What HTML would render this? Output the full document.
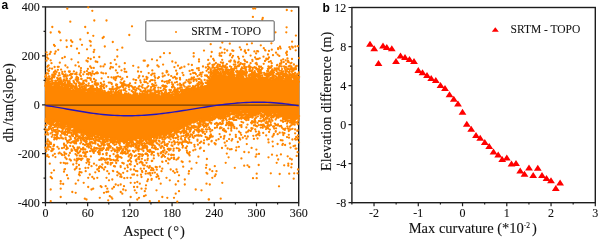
<!DOCTYPE html>
<html><head><meta charset="utf-8"><style>
html,body{margin:0;padding:0;background:#fff;width:600px;height:242px;overflow:hidden}
svg{display:block;will-change:transform}
text{font-family:"Liberation Serif",serif;fill:#111;stroke:#111;stroke-width:0.1px}
</style></head><body>
<svg width="600" height="242" viewBox="0 0 600 242">
<rect width="600" height="242" fill="#fff"/>
<g>
<rect x="45.45" y="6.95" width="253.25" height="195.70" fill="none" stroke="#1c1c1c" stroke-width="1.4"/>
<polygon points="45.0,86.2 49.0,86.4 53.0,86.6 57.0,86.8 61.0,87.2 65.0,88.1 69.0,89.0 73.0,89.6 77.0,90.1 81.0,90.7 85.0,91.2 89.0,91.7 93.0,92.3 97.0,92.8 101.0,93.4 105.0,94.0 109.0,94.5 113.0,95.2 117.0,95.8 121.0,96.2 125.0,96.2 129.0,96.1 133.0,96.1 137.0,96.0 141.0,96.0 145.0,96.0 149.0,95.9 153.0,95.9 157.0,95.9 161.0,95.8 165.0,95.8 169.0,95.7 173.0,95.7 177.0,94.7 181.0,93.3 185.0,92.0 189.0,90.6 193.0,89.5 197.0,88.8 201.0,88.1 205.0,87.4 209.0,80.2 213.0,73.3 217.0,73.9 221.0,74.5 225.0,75.1 229.0,75.6 233.0,76.2 237.0,76.8 241.0,77.3 245.0,77.7 249.0,78.3 253.0,78.7 257.0,78.9 261.0,79.1 265.0,79.2 269.0,79.2 273.0,79.2 277.0,79.2 281.0,79.3 285.0,79.7 289.0,80.1 293.0,80.6 297.0,81.0 299.3,81.2 299.3,116.8 297.0,116.5 293.0,116.0 289.0,115.4 285.0,114.8 281.0,114.3 277.0,113.7 273.0,113.1 269.0,112.6 265.0,112.2 261.0,112.0 257.0,111.7 253.0,111.5 249.0,111.3 245.0,111.0 241.0,110.8 237.0,111.6 233.0,112.3 229.0,113.1 225.0,113.9 221.0,114.6 217.0,115.6 213.0,116.6 209.0,117.6 205.0,118.7 201.0,119.7 197.0,120.6 193.0,121.6 189.0,123.3 185.0,125.3 181.0,127.3 177.0,129.3 173.0,131.1 169.0,132.1 165.0,133.1 161.0,134.1 157.0,135.2 153.0,136.2 149.0,137.2 145.0,138.3 141.0,139.3 137.0,139.5 133.0,139.7 129.0,139.9 125.0,140.1 121.0,140.3 117.0,139.7 113.0,138.9 109.0,138.1 105.0,137.3 101.0,136.5 97.0,135.7 93.0,134.9 89.0,134.1 85.0,132.7 81.0,130.9 77.0,129.1 73.0,127.4 69.0,125.6 65.0,124.0 61.0,123.0 57.0,121.9 53.0,120.9 49.0,119.8 45.0,118.8 45.2,118.9" fill="#ff8600"/>
<path d="M67.3 8.7h0M88.2 7.3h0M92.3 10.8h0M70.3 21.7h0M94.3 20.5h0M106.5 20.5h0M132.0 26.3h0M52.3 27.0h0M85.2 27.0h0M50.7 32.5h0M59.0 31.7h0M59.8 32.5h0M87.8 33.0h0M93.3 35.8h0M103.7 37.0h0M102.7 38.0h0M129.3 35.0h0M60.7 40.3h0M66.5 40.5h0M71.0 40.5h0M72.3 42.0h0M80.3 39.5h0M89.8 40.8h0M90.7 41.7h0M112.8 42.0h0M54.0 45.0h0M210.7 44.2h0M222.3 42.5h0M229.8 43.7h0M253.2 8.6h0M255.2 8.6h0M286.8 10.0h0M291.6 10.8h0M252.9 16.9h0M262.8 17.9h0M262.3 19.5h0M286.6 27.3h0M275.5 32.3h0M286.3 32.3h0M295.9 35.6h0M292.1 41.7h0M247.0 44.3h0M251.9 43.3h0M271.4 43.3h0M54.8 46.0h0M66.8 47.0h0M71.2 46.0h0M82.0 44.8h0M90.7 45.7h0M104.8 46.5h0M122.3 47.7h0M77.0 48.7h0M87.0 49.3h0M94.3 49.8h0M93.7 52.0h0M117.3 49.8h0M58.2 49.8h0M55.7 51.5h0M54.8 53.7h0M50.7 52.0h0M49.8 54.0h0M46.5 52.3h0M47.3 54.8h0M79.0 53.2h0M48.2 58.7h0M47.0 57.3h0M62.3 58.2h0M64.8 57.0h0M71.5 59.3h0M88.2 58.2h0M94.0 57.3h0M99.3 57.0h0M117.3 56.5h0M114.8 59.8h0M50.7 60.3h0M46.5 60.7h0M86.5 60.7h0M87.7 61.5h0M90.7 59.0h0M95.7 61.5h0M97.3 62.0h0M78.2 62.3h0M59.8 62.7h0M110.7 63.2h0M124.8 63.2h0M143.7 60.7h0M51.5 63.2h0M164.0 53.2h0M169.8 53.2h0M193.7 53.2h0M193.7 56.5h0M160.3 57.0h0M152.0 59.3h0M157.0 60.3h0M144.8 60.7h0M199.0 59.3h0M172.3 61.5h0M175.7 62.7h0M199.0 61.5h0M49.8 163.7h0M60.7 162.8h0M63.7 162.8h0M67.3 163.3h0M73.2 164.5h0M76.5 163.3h0M79.0 165.0h0M86.5 162.8h0M89.0 164.5h0M91.5 166.2h0M94.0 163.7h0M96.5 165.3h0M102.3 164.5h0M107.3 163.3h0M110.7 164.5h0M114.0 166.2h0M112.3 162.8h0M122.3 162.8h0M120.7 167.0h0M127.3 165.3h0M130.7 164.5h0M134.8 166.2h0M137.3 164.0h0M142.3 163.7h0M54.0 170.3h0M51.5 172.8h0M64.0 171.7h0M74.8 169.5h0M79.8 172.0h0M79.0 174.5h0M79.8 175.3h0M88.2 167.8h0M85.7 171.2h0M89.8 174.5h0M97.3 169.5h0M99.0 171.2h0M102.3 167.8h0M107.3 171.2h0M109.0 173.7h0M113.2 171.2h0M117.3 172.0h0M120.7 174.5h0M123.2 172.8h0M127.3 171.2h0M130.7 169.5h0M134.0 169.5h0M137.3 171.2h0M140.7 168.7h0M134.0 174.5h0M142.3 172.0h0M50.7 177.0h0M52.0 178.3h0M88.2 177.8h0M92.3 177.0h0M94.0 178.7h0M97.3 177.8h0M106.5 177.8h0M109.0 180.3h0M112.3 179.5h0M117.3 175.3h0M121.5 177.0h0M127.3 177.8h0M130.7 177.8h0M137.3 175.3h0M141.5 177.0h0M60.7 181.2h0M78.2 180.3h0M83.7 182.8h0M60.7 183.7h0M63.2 184.0h0M75.7 183.7h0M100.7 186.2h0M101.5 187.0h0M105.7 186.2h0M107.3 188.7h0M115.7 184.5h0M118.2 185.3h0M120.7 184.5h0M130.7 182.8h0M134.8 182.8h0M137.3 182.0h0M139.8 183.7h0M50.7 189.5h0M60.7 188.7h0M88.2 187.0h0M91.5 189.5h0M93.2 188.7h0M112.3 188.7h0M114.0 187.0h0M124.0 186.2h0M123.2 189.5h0M125.7 190.3h0M134.0 187.0h0M137.3 187.0h0M134.8 190.3h0M141.5 188.7h0M72.3 192.0h0M75.7 192.8h0M104.0 192.8h0M106.5 192.0h0M108.2 191.7h0M120.7 192.0h0M122.3 193.7h0M136.5 192.8h0M60.7 197.0h0M84.8 198.7h0M86.5 199.5h0M99.8 197.8h0M109.8 196.2h0M111.5 197.3h0M112.3 198.7h0M130.7 197.0h0M139.0 197.8h0M50.7 201.2h0M108.2 200.3h0M137.3 199.5h0M146.5 162.8h0M144.8 165.3h0M144.0 168.7h0M149.8 166.2h0M149.0 167.8h0M151.5 167.8h0M153.2 170.3h0M146.0 171.2h0M145.7 173.7h0M149.8 172.8h0M150.7 175.3h0M155.7 167.0h0M159.8 166.7h0M162.3 168.7h0M161.5 171.2h0M168.2 163.3h0M170.7 169.5h0M173.2 171.2h0M174.8 172.8h0M176.5 169.5h0M177.3 172.0h0M179.0 175.3h0M183.2 166.7h0M189.0 171.2h0M188.7 173.7h0M191.5 168.7h0M196.5 162.8h0M206.5 165.0h0M206.0 167.8h0M206.5 172.8h0M207.3 173.7h0M209.8 169.5h0M212.3 171.2h0M214.8 166.2h0M216.5 171.2h0M215.7 174.5h0M214.8 176.2h0M225.7 162.8h0M234.8 167.8h0M156.5 177.0h0M158.2 176.2h0M159.0 178.7h0M166.5 177.8h0M169.8 180.3h0M147.3 181.2h0M146.0 185.3h0M145.7 188.7h0M144.8 191.2h0M145.7 195.3h0M144.0 196.2h0M160.7 183.7h0M175.7 184.5h0M178.2 181.2h0M184.8 179.5h0M184.8 184.5h0M212.3 177.8h0M206.5 183.7h0M209.8 184.5h0M222.3 182.8h0M156.5 190.3h0M175.7 193.7h0M179.0 191.2h0M195.7 189.5h0M201.5 190.3h0M162.3 197.0h0M167.3 197.8h0M174.0 197.8h0M209.0 199.5h0M220.7 198.7h0M149.8 201.2h0M159.0 201.2h0M177.3 201.7h0M276.7 162.8h0M244.2 165.7h0M247.5 165.3h0M249.2 167.0h0M258.7 165.0h0M284.2 165.3h0M288.3 163.7h0M288.3 165.7h0M291.7 164.0h0M291.3 167.3h0M298.0 169.5h0M256.7 173.7h0M253.0 178.2h0M256.7 178.2h0M270.8 173.3h0M279.7 174.0h0M289.2 173.7h0M294.2 173.3h0M297.5 173.3h0M293.7 178.7h0M279.0 186.3h0M208.7 199.5h0M142.5 162.8h0M107.9 162.3h0M89.3 162.3h0M105.6 162.5h0M116.2 163.0h0M139.7 162.6h0M65.5 163.5h0M107.7 163.9h0M123.7 163.5h0M110.7 163.2h0M129.8 164.2h0M143.3 165.2h0M115.0 166.5h0M147.4 166.4h0M120.6 166.1h0M100.0 166.3h0M76.7 166.8h0M99.2 167.0h0M105.2 167.2h0M101.4 167.1h0M156.8 167.2h0M127.8 167.3h0M76.3 168.2h0M152.9 168.6h0M79.7 168.9h0M124.9 168.6h0M98.9 168.4h0M85.5 168.0h0M64.5 169.4h0M65.0 169.1h0M156.8 169.7h0M104.0 169.5h0M112.9 170.8h0M151.1 170.2h0M153.5 170.0h0M135.8 170.8h0M141.9 171.0h0M81.5 172.4h0M79.6 172.3h0M154.9 172.6h0M95.3 172.3h0M149.9 173.7h0M118.9 173.4h0M148.1 173.4h0M152.4 173.1h0M141.0 174.7h0M132.3 174.6h0M157.2 174.3h0M67.0 175.2h0M121.2 176.5h0M120.3 176.7h0M124.3 178.2h0M68.1 178.4h0M151.5 179.8h0M148.0 179.5h0M151.7 179.0h0M45.3 85.9h0M45.4 85.5h0M46.0 85.0h0M45.9 83.9h0M45.7 83.2h0M45.4 80.6h0M46.1 80.8h0M45.3 76.8h0M45.9 75.2h0M45.9 119.0h0M45.8 120.3h0M46.1 120.2h0M45.9 120.3h0M45.7 121.1h0M45.8 121.7h0M45.7 125.5h0M45.3 128.8h0M45.3 129.4h0M45.6 129.9h0M45.5 134.5h0M45.4 147.6h0M46.5 86.5h0M46.3 85.4h0M47.1 85.1h0M46.4 84.4h0M46.4 83.3h0M46.4 83.1h0M46.7 79.2h0M46.6 79.1h0M47.0 78.7h0M46.6 77.8h0M46.4 77.4h0M46.7 73.1h0M46.5 120.3h0M46.7 120.2h0M46.3 120.8h0M46.4 120.6h0M47.1 120.8h0M47.2 122.8h0M46.5 124.9h0M46.7 131.4h0M47.2 141.4h0M46.6 143.5h0M46.3 149.1h0M46.3 151.3h0M46.9 156.1h0M48.2 86.5h0M48.0 86.7h0M48.1 86.2h0M48.2 85.9h0M47.9 85.0h0M47.8 83.0h0M47.4 80.9h0M48.1 80.3h0M47.5 79.1h0M48.0 78.8h0M48.2 73.7h0M48.2 70.5h0M47.7 69.7h0M47.3 66.8h0M47.9 66.0h0M47.7 119.2h0M48.2 119.7h0M47.9 119.7h0M48.1 120.2h0M47.7 120.2h0M48.1 120.9h0M47.9 122.2h0M47.4 122.5h0M48.0 123.0h0M48.2 129.9h0M47.4 129.9h0M47.5 132.8h0M47.7 134.4h0M48.2 134.5h0M47.7 139.5h0M48.1 144.5h0M47.8 146.5h0M47.7 147.6h0M47.5 154.9h0M49.1 84.6h0M48.3 83.8h0M48.4 83.2h0M48.3 82.6h0M48.4 81.7h0M48.9 81.3h0M48.5 80.0h0M48.3 79.4h0M48.6 78.7h0M48.6 76.4h0M48.8 71.1h0M49.0 70.8h0M48.6 65.5h0M49.0 119.8h0M49.0 120.6h0M48.9 121.2h0M48.8 121.0h0M49.1 121.5h0M49.2 122.2h0M49.0 122.7h0M49.2 126.8h0M48.8 128.5h0M49.0 129.3h0M48.9 141.3h0M48.3 145.0h0M49.0 146.2h0M48.6 149.6h0M48.8 156.9h0M49.8 86.3h0M50.2 85.7h0M50.1 85.0h0M50.1 84.3h0M49.4 84.2h0M49.5 84.3h0M49.9 83.2h0M49.9 81.6h0M49.3 79.1h0M49.4 78.3h0M49.7 78.6h0M49.5 76.3h0M49.7 68.3h0M49.8 119.7h0M49.3 124.3h0M49.6 142.4h0M49.9 143.9h0M51.0 86.7h0M50.6 83.6h0M51.2 79.0h0M51.2 119.8h0M50.3 120.1h0M51.2 120.6h0M50.4 121.9h0M50.8 122.7h0M51.0 122.8h0M50.7 124.1h0M50.8 125.1h0M51.2 125.2h0M51.1 126.0h0M50.6 126.3h0M50.4 127.6h0M51.0 128.7h0M51.2 128.9h0M50.6 133.3h0M50.8 142.7h0M51.0 144.0h0M50.4 147.2h0M52.0 86.5h0M52.1 86.7h0M51.6 85.3h0M52.2 82.4h0M51.7 80.7h0M51.4 78.9h0M51.9 78.4h0M51.9 77.6h0M52.0 77.5h0M52.1 68.7h0M52.1 120.0h0M51.9 120.5h0M52.0 123.9h0M51.9 123.5h0M52.0 124.2h0M52.1 124.5h0M51.5 125.4h0M52.1 130.4h0M51.8 136.8h0M52.2 148.8h0M51.3 151.0h0M52.4 84.0h0M53.1 83.3h0M53.1 83.5h0M52.8 83.4h0M52.6 80.6h0M52.3 75.6h0M52.3 74.7h0M52.6 121.0h0M52.5 121.5h0M52.7 123.1h0M52.5 123.3h0M52.9 123.2h0M53.2 123.5h0M53.2 124.2h0M53.0 127.8h0M52.3 132.4h0M52.7 134.9h0M52.7 134.8h0M52.9 149.3h0M52.5 150.6h0M52.9 155.5h0M53.4 87.0h0M53.8 87.0h0M53.3 86.6h0M53.3 83.6h0M53.5 82.8h0M53.4 77.2h0M54.2 77.4h0M53.3 76.6h0M53.8 72.7h0M54.2 71.8h0M53.4 120.7h0M53.9 121.6h0M53.8 122.3h0M53.7 125.1h0M53.8 129.9h0M54.1 130.9h0M54.2 139.4h0M54.1 144.8h0M53.9 145.0h0M53.9 145.7h0M53.4 146.3h0M53.6 149.1h0M55.1 86.0h0M55.2 86.2h0M54.8 85.5h0M54.3 85.5h0M54.6 85.1h0M54.4 84.5h0M54.9 83.9h0M55.1 82.8h0M55.2 80.9h0M54.5 76.5h0M54.3 75.0h0M54.6 67.0h0M54.3 120.9h0M54.9 121.3h0M55.2 124.6h0M54.5 125.3h0M54.9 126.9h0M55.0 135.0h0M54.3 137.4h0M54.7 138.4h0M54.8 153.8h0M55.8 84.8h0M56.2 84.1h0M55.9 82.6h0M56.1 82.3h0M55.4 81.4h0M55.3 81.3h0M55.7 80.9h0M55.6 74.0h0M55.9 71.6h0M55.3 70.7h0M56.1 123.9h0M56.1 124.7h0M55.9 126.1h0M55.5 126.5h0M55.8 130.0h0M55.3 131.8h0M56.1 132.0h0M55.8 134.6h0M56.2 134.6h0M56.0 137.7h0M55.4 157.1h0M56.9 87.4h0M56.4 86.9h0M57.2 86.7h0M56.5 86.3h0M56.3 85.6h0M57.2 78.0h0M56.6 71.9h0M57.0 121.8h0M56.6 122.2h0M56.6 122.8h0M56.8 123.1h0M56.3 123.8h0M56.4 134.1h0M56.5 135.1h0M57.1 136.2h0M56.9 137.0h0M56.9 138.0h0M57.0 138.4h0M56.7 139.3h0M58.0 86.3h0M58.1 85.1h0M57.4 83.4h0M58.0 82.8h0M58.2 83.0h0M57.3 83.0h0M57.6 80.1h0M57.9 78.4h0M57.9 69.8h0M57.8 66.8h0M57.9 122.2h0M57.9 122.8h0M57.9 124.1h0M57.7 125.1h0M57.7 125.3h0M58.1 125.3h0M57.5 127.3h0M57.6 127.9h0M57.4 129.8h0M57.7 132.2h0M57.7 133.8h0M57.4 146.8h0M58.5 85.3h0M58.9 85.5h0M58.9 85.2h0M58.7 85.2h0M59.1 85.2h0M58.4 83.9h0M58.6 83.4h0M58.7 82.0h0M59.0 81.6h0M59.2 79.4h0M59.1 79.6h0M58.4 78.7h0M58.4 75.6h0M59.2 73.1h0M58.7 66.8h0M58.9 123.3h0M58.3 123.6h0M58.5 124.9h0M58.4 126.7h0M59.0 130.8h0M59.0 131.1h0M58.4 138.1h0M58.8 148.7h0M58.7 153.4h0M59.5 87.3h0M59.3 86.6h0M59.9 84.3h0M60.1 84.3h0M59.5 83.0h0M59.4 82.7h0M59.6 75.2h0M59.3 123.3h0M60.0 124.0h0M60.2 123.7h0M59.7 124.7h0M59.9 125.2h0M60.2 127.4h0M59.8 138.3h0M59.6 152.6h0M60.5 87.2h0M60.9 84.3h0M60.6 82.3h0M61.0 80.4h0M60.7 80.6h0M60.6 79.2h0M60.3 78.0h0M61.1 69.6h0M60.9 124.0h0M61.0 124.1h0M60.9 131.7h0M60.7 135.5h0M61.2 153.8h0M61.3 87.0h0M61.7 86.7h0M61.5 86.3h0M62.1 86.0h0M61.5 82.4h0M61.3 123.0h0M62.1 122.8h0M62.2 122.6h0M61.4 124.1h0M62.2 124.9h0M61.6 125.4h0M61.3 125.8h0M62.1 126.2h0M61.4 126.8h0M61.9 128.2h0M62.1 133.5h0M61.5 137.3h0M62.1 138.3h0M62.0 148.2h0M62.1 155.0h0M63.1 88.1h0M62.8 88.3h0M62.3 87.1h0M62.6 87.1h0M62.3 84.9h0M62.7 85.2h0M62.9 85.0h0M63.0 84.3h0M62.7 83.8h0M62.5 82.6h0M62.5 82.1h0M62.9 74.1h0M62.3 73.8h0M62.3 72.0h0M63.1 123.4h0M62.9 123.5h0M62.7 124.4h0M62.4 125.3h0M62.7 127.4h0M62.7 130.0h0M62.4 131.2h0M63.4 88.5h0M63.4 88.2h0M63.4 88.3h0M63.7 88.1h0M64.1 87.9h0M63.8 84.7h0M63.6 80.9h0M63.4 80.7h0M63.6 80.2h0M64.1 79.4h0M63.8 76.5h0M63.7 123.4h0M63.5 123.4h0M63.6 123.3h0M64.0 124.8h0M63.9 126.7h0M63.8 128.4h0M64.1 132.5h0M63.5 133.6h0M63.3 138.6h0M64.0 143.6h0M64.0 144.5h0M64.0 147.7h0M65.0 87.2h0M64.3 85.5h0M65.1 85.6h0M64.9 84.6h0M64.5 83.9h0M64.9 83.8h0M65.0 82.3h0M64.6 76.5h0M64.4 75.3h0M64.9 71.7h0M64.4 123.6h0M65.2 124.5h0M64.5 126.6h0M64.8 127.1h0M65.1 131.7h0M64.4 132.4h0M64.4 134.2h0M65.2 134.6h0M64.9 134.8h0M64.6 145.3h0M64.6 145.8h0M64.3 152.3h0M64.7 153.3h0M64.3 155.1h0M65.3 88.3h0M66.0 86.7h0M65.7 86.1h0M65.6 86.0h0M66.2 84.6h0M65.8 80.4h0M66.0 76.2h0M65.6 74.3h0M65.4 65.5h0M66.0 123.9h0M65.8 126.4h0M65.8 129.6h0M66.0 131.8h0M65.4 132.6h0M65.4 134.5h0M65.6 137.7h0M65.8 139.2h0M66.1 145.5h0M66.2 153.8h0M65.3 157.5h0M67.2 88.6h0M66.4 88.2h0M67.0 88.3h0M66.8 87.2h0M66.3 86.0h0M66.9 85.8h0M66.5 78.4h0M66.9 78.4h0M67.1 124.6h0M67.1 126.6h0M66.3 128.8h0M67.0 134.9h0M67.0 141.0h0M67.1 147.4h0M66.3 149.2h0M66.6 159.0h0M68.1 88.9h0M68.2 88.4h0M67.9 88.8h0M68.2 86.9h0M67.8 86.6h0M67.9 86.5h0M67.8 86.1h0M67.3 86.1h0M67.3 85.6h0M68.1 84.9h0M67.8 83.5h0M67.7 82.5h0M68.1 81.3h0M67.5 80.4h0M67.6 75.6h0M67.7 75.7h0M67.5 67.4h0M67.9 124.8h0M67.7 125.0h0M67.6 124.8h0M68.0 125.3h0M68.1 126.3h0M67.9 127.1h0M67.8 128.8h0M68.0 130.9h0M67.9 130.7h0M68.1 132.0h0M67.8 133.0h0M67.5 142.8h0M67.8 148.3h0M69.0 88.5h0M68.3 87.5h0M68.3 86.7h0M68.4 86.2h0M69.2 85.6h0M69.0 85.5h0M69.0 84.1h0M68.7 83.0h0M68.9 71.3h0M68.7 125.5h0M68.9 127.3h0M68.9 129.1h0M68.3 129.8h0M69.1 132.7h0M68.7 140.6h0M68.5 141.9h0M68.8 155.5h0M69.8 89.4h0M70.1 88.5h0M70.0 86.1h0M69.4 85.2h0M69.7 84.1h0M69.8 83.9h0M69.8 83.0h0M69.5 82.4h0M69.6 81.2h0M70.2 78.8h0M70.0 75.0h0M69.4 72.0h0M69.8 71.5h0M69.5 126.0h0M69.5 127.3h0M69.9 127.1h0M70.2 127.6h0M69.8 127.6h0M70.1 129.6h0M69.6 129.4h0M69.5 130.2h0M69.5 132.3h0M70.1 132.5h0M69.4 136.3h0M69.8 139.8h0M70.2 145.9h0M69.9 153.0h0M69.7 159.4h0M70.3 88.5h0M71.1 87.5h0M71.0 86.0h0M71.2 78.2h0M71.0 74.7h0M71.0 73.8h0M70.5 125.8h0M71.2 127.4h0M70.8 127.6h0M70.3 129.8h0M71.1 132.9h0M70.5 137.0h0M70.5 137.6h0M70.9 139.1h0M70.4 142.8h0M70.9 160.5h0M72.1 88.0h0M71.7 86.4h0M71.6 85.5h0M71.7 84.3h0M71.7 84.1h0M71.9 77.4h0M71.6 76.8h0M72.0 74.2h0M71.6 126.6h0M72.1 130.7h0M71.7 135.0h0M71.4 142.7h0M71.6 149.5h0M72.2 150.6h0M71.5 150.9h0M71.5 150.9h0M73.0 86.2h0M72.6 73.8h0M72.8 127.2h0M72.9 127.2h0M72.9 130.7h0M72.7 130.7h0M72.4 134.7h0M72.6 135.4h0M73.0 136.2h0M72.6 141.7h0M73.2 141.5h0M73.0 146.4h0M73.3 89.9h0M73.5 85.7h0M73.9 82.0h0M73.9 82.2h0M73.5 81.0h0M73.9 71.4h0M74.2 129.9h0M73.9 130.7h0M73.9 131.6h0M73.3 132.5h0M73.7 132.6h0M73.7 133.9h0M73.8 142.5h0M74.1 148.0h0M74.5 88.2h0M74.6 88.1h0M74.7 87.9h0M74.4 87.7h0M75.2 86.9h0M74.4 83.0h0M75.1 74.1h0M75.1 128.6h0M74.3 128.8h0M75.1 129.8h0M74.3 133.1h0M75.0 133.6h0M75.0 137.8h0M74.9 138.7h0M74.6 141.1h0M74.7 143.3h0M75.1 149.9h0M74.7 149.6h0M75.0 149.8h0M74.6 159.7h0M76.0 90.1h0M76.0 90.0h0M75.7 89.7h0M75.3 88.2h0M76.1 87.7h0M76.2 87.4h0M76.0 86.7h0M76.0 86.8h0M75.9 85.1h0M76.2 83.8h0M75.6 79.4h0M75.5 65.4h0M75.3 128.3h0M75.9 128.5h0M75.4 131.3h0M75.6 131.4h0M76.2 133.3h0M75.8 135.0h0M76.1 135.8h0M75.5 141.4h0M76.1 143.4h0M75.6 150.4h0M75.9 151.1h0M75.5 154.1h0M76.7 90.6h0M76.6 90.6h0M76.8 88.9h0M76.8 88.3h0M76.7 87.9h0M76.6 86.3h0M77.2 81.5h0M76.4 79.8h0M76.3 79.8h0M76.4 77.7h0M76.8 76.8h0M76.6 74.3h0M76.5 72.6h0M77.1 128.4h0M76.5 129.2h0M76.7 130.4h0M77.0 132.7h0M76.4 133.1h0M77.1 132.9h0M76.3 136.7h0M77.2 139.1h0M76.3 139.8h0M76.6 141.3h0M76.7 149.8h0M77.2 150.5h0M77.0 151.7h0M76.8 155.5h0M77.0 158.7h0M76.6 161.0h0M77.9 88.8h0M77.6 80.6h0M78.0 79.3h0M77.6 78.3h0M78.1 78.0h0M78.1 130.4h0M77.3 130.6h0M77.8 131.6h0M77.9 132.2h0M77.7 131.9h0M78.2 132.3h0M77.6 135.2h0M78.2 136.6h0M77.9 138.6h0M78.1 140.5h0M77.7 147.5h0M77.6 147.9h0M78.0 148.7h0M78.1 153.3h0M77.8 159.8h0M78.4 90.0h0M78.7 89.4h0M79.1 85.9h0M79.0 83.3h0M78.9 82.5h0M78.3 79.6h0M79.0 66.4h0M78.5 130.1h0M78.4 132.4h0M79.0 138.1h0M78.6 158.7h0M79.7 91.0h0M79.9 90.9h0M79.9 89.4h0M80.0 89.1h0M79.8 88.0h0M79.5 86.3h0M79.5 85.4h0M79.7 74.5h0M79.3 130.1h0M80.1 130.3h0M79.4 130.7h0M80.1 131.1h0M79.8 132.5h0M79.7 136.4h0M80.1 138.6h0M79.3 147.5h0M80.0 151.4h0M80.2 151.3h0M79.3 152.3h0M79.7 155.7h0M79.5 158.9h0M81.2 91.1h0M80.3 89.2h0M81.2 87.4h0M80.4 83.4h0M81.2 78.9h0M80.9 76.1h0M80.7 72.4h0M80.8 70.4h0M81.0 68.1h0M81.2 131.0h0M80.6 137.2h0M80.9 137.5h0M80.9 138.5h0M81.0 138.8h0M80.9 140.3h0M80.4 143.4h0M81.0 149.2h0M80.7 155.6h0M80.8 159.0h0M81.2 160.1h0M82.2 89.8h0M81.8 87.0h0M81.4 84.8h0M82.2 84.7h0M81.6 79.0h0M82.2 131.9h0M81.6 131.8h0M81.5 133.6h0M81.4 134.8h0M81.9 134.8h0M82.1 137.5h0M81.3 137.9h0M81.3 142.1h0M82.1 149.3h0M81.3 156.0h0M83.1 91.3h0M82.5 90.7h0M82.7 89.5h0M82.5 88.3h0M82.8 86.8h0M83.0 84.1h0M82.5 83.5h0M83.2 82.4h0M83.0 131.0h0M82.6 131.8h0M82.8 132.2h0M83.1 135.9h0M82.9 139.1h0M83.1 139.7h0M83.2 144.1h0M83.1 144.2h0M83.2 148.4h0M83.1 148.0h0M83.1 152.7h0M82.5 158.6h0M83.5 90.3h0M83.7 86.4h0M84.1 83.5h0M83.4 80.8h0M83.3 74.3h0M84.1 132.5h0M84.0 134.1h0M83.6 134.2h0M83.6 134.9h0M83.6 135.4h0M83.8 137.6h0M83.9 139.8h0M83.9 139.9h0M83.4 140.2h0M83.3 147.8h0M83.4 148.2h0M83.6 149.1h0M83.4 149.7h0M83.7 152.2h0M83.5 152.5h0M84.4 91.5h0M84.4 91.7h0M85.1 90.7h0M84.4 88.6h0M84.9 88.2h0M84.4 86.1h0M85.2 80.4h0M84.4 72.0h0M84.7 132.7h0M84.6 133.5h0M85.1 138.1h0M84.5 140.2h0M84.3 140.9h0M85.0 145.0h0M84.7 152.9h0M84.3 156.2h0M85.4 90.5h0M86.2 89.4h0M85.7 88.9h0M85.4 88.8h0M85.5 87.4h0M85.8 87.6h0M86.1 84.8h0M86.2 132.9h0M85.9 133.2h0M86.0 134.4h0M85.8 137.5h0M85.8 140.5h0M85.4 141.7h0M85.9 142.4h0M86.1 142.4h0M85.3 149.5h0M86.2 152.4h0M85.8 152.3h0M85.4 154.4h0M86.2 156.7h0M87.0 85.7h0M86.4 81.3h0M86.3 80.4h0M86.9 74.1h0M87.0 71.1h0M86.8 135.1h0M86.7 138.9h0M87.0 139.1h0M87.1 139.4h0M86.7 141.6h0M86.4 142.8h0M86.7 144.1h0M87.0 146.4h0M87.2 151.9h0M87.8 91.9h0M87.3 90.5h0M87.8 90.7h0M87.9 90.0h0M87.8 90.2h0M88.2 89.3h0M87.6 78.0h0M87.9 68.9h0M87.5 133.4h0M88.2 134.1h0M87.3 134.4h0M87.8 134.6h0M87.3 135.2h0M87.4 137.1h0M88.1 138.5h0M87.9 145.9h0M87.4 159.2h0M87.5 160.5h0M87.4 160.2h0M87.8 161.2h0M88.6 92.1h0M88.6 91.4h0M88.7 85.7h0M88.7 83.4h0M88.4 74.5h0M88.7 73.0h0M88.9 133.3h0M88.5 134.8h0M88.4 135.7h0M88.6 138.2h0M88.5 143.8h0M88.3 144.1h0M88.8 144.8h0M89.2 147.1h0M88.9 147.6h0M89.1 159.6h0M88.8 159.5h0M89.8 91.7h0M89.7 91.8h0M89.5 89.8h0M89.8 89.2h0M89.5 88.6h0M89.6 78.2h0M90.2 66.5h0M90.2 134.5h0M90.1 134.1h0M89.3 135.7h0M89.3 136.1h0M89.8 136.5h0M89.9 136.8h0M89.5 139.0h0M89.6 139.7h0M89.9 142.3h0M89.6 144.6h0M90.1 151.2h0M90.6 91.2h0M90.6 91.3h0M91.2 90.8h0M91.1 91.0h0M91.2 89.2h0M90.9 88.7h0M90.7 88.0h0M90.6 87.7h0M90.7 86.2h0M90.8 79.9h0M90.7 78.4h0M90.8 74.3h0M90.3 72.8h0M90.4 138.4h0M91.2 139.1h0M90.3 142.5h0M90.4 144.2h0M90.3 144.8h0M91.0 148.5h0M90.9 156.4h0M92.2 92.7h0M91.5 92.7h0M91.3 91.2h0M92.1 88.1h0M91.7 87.4h0M91.6 86.8h0M91.7 87.2h0M92.0 86.7h0M92.2 81.9h0M91.4 75.6h0M91.4 67.9h0M91.5 135.3h0M92.1 135.7h0M91.4 135.6h0M91.5 135.8h0M91.7 135.9h0M92.0 138.1h0M92.0 138.3h0M91.3 139.1h0M91.7 141.8h0M91.4 146.3h0M92.2 150.3h0M92.5 90.7h0M93.2 89.7h0M93.0 88.1h0M93.1 86.4h0M92.4 85.6h0M92.5 73.4h0M92.6 71.3h0M92.8 134.5h0M92.8 135.5h0M92.7 136.2h0M92.3 136.5h0M92.4 142.7h0M92.7 143.3h0M92.5 149.8h0M92.8 151.2h0M92.5 151.3h0M93.8 92.7h0M94.0 92.1h0M93.4 89.6h0M94.0 79.0h0M93.8 67.9h0M93.3 134.9h0M93.3 134.8h0M93.5 139.2h0M93.4 139.6h0M93.5 149.3h0M93.8 152.9h0M95.1 92.7h0M94.4 90.7h0M95.0 88.8h0M94.6 88.7h0M94.8 84.4h0M95.0 84.0h0M94.8 83.9h0M94.8 81.7h0M94.4 74.1h0M94.5 134.8h0M95.0 136.6h0M95.0 136.9h0M94.8 137.4h0M94.5 140.5h0M94.8 142.0h0M94.6 143.2h0M94.4 147.6h0M95.2 148.1h0M94.4 148.4h0M94.6 148.5h0M94.7 151.1h0M95.7 92.7h0M95.3 92.7h0M95.7 90.5h0M96.0 84.9h0M95.6 82.8h0M95.8 80.5h0M96.0 73.1h0M95.5 137.9h0M96.2 139.3h0M96.1 140.1h0M95.3 141.9h0M95.5 142.0h0M95.4 143.5h0M95.5 150.7h0M96.8 92.3h0M96.9 92.1h0M96.8 90.9h0M97.1 90.1h0M97.0 89.8h0M97.2 88.4h0M97.0 87.6h0M96.6 85.5h0M96.4 83.4h0M97.0 73.2h0M97.1 72.3h0M96.3 136.7h0M96.9 139.9h0M96.7 148.4h0M96.8 148.5h0M96.6 148.5h0M97.8 93.2h0M97.7 93.1h0M98.2 93.0h0M97.5 92.5h0M97.4 91.3h0M98.0 89.9h0M97.6 88.8h0M98.2 84.4h0M98.2 84.3h0M97.8 83.5h0M97.8 73.2h0M98.2 135.4h0M97.5 136.1h0M97.6 136.6h0M97.5 137.6h0M97.9 140.7h0M97.9 144.4h0M97.8 148.4h0M98.0 152.2h0M99.0 93.3h0M98.4 92.5h0M98.3 89.7h0M98.9 89.5h0M98.3 135.6h0M98.8 137.9h0M99.0 139.6h0M99.1 141.2h0M98.3 145.2h0M99.0 151.0h0M98.9 154.0h0M99.9 92.8h0M99.9 91.6h0M100.1 91.6h0M99.6 91.1h0M99.4 90.0h0M100.0 139.1h0M99.4 146.2h0M99.5 148.7h0M99.9 149.5h0M100.1 150.7h0M99.8 152.9h0M99.7 154.3h0M99.3 159.9h0M100.3 94.0h0M100.5 92.7h0M100.7 91.2h0M100.6 88.8h0M100.4 88.6h0M100.3 86.4h0M100.4 86.1h0M100.8 83.0h0M100.7 66.4h0M101.0 135.8h0M100.6 136.6h0M100.7 136.6h0M101.1 137.2h0M100.6 136.9h0M100.6 138.5h0M100.6 141.6h0M100.5 146.1h0M101.2 148.4h0M100.7 159.5h0M101.6 94.2h0M101.7 93.1h0M101.9 92.8h0M102.0 93.1h0M101.4 92.5h0M101.4 88.9h0M101.7 86.7h0M101.8 84.4h0M101.6 78.3h0M101.4 72.7h0M101.3 136.9h0M101.7 136.9h0M101.7 137.5h0M101.9 139.1h0M101.4 143.3h0M101.5 145.3h0M102.0 150.3h0M101.5 158.1h0M101.6 159.7h0M102.5 94.1h0M103.1 93.8h0M102.5 92.7h0M103.2 92.4h0M102.4 90.5h0M102.7 136.6h0M103.0 137.0h0M102.5 136.9h0M102.6 138.0h0M102.9 139.2h0M102.7 140.1h0M102.5 139.6h0M102.9 141.9h0M102.5 142.9h0M103.2 143.2h0M102.5 144.1h0M102.9 143.7h0M103.2 149.1h0M102.9 154.2h0M103.7 94.4h0M103.9 93.2h0M104.1 92.1h0M104.1 88.1h0M104.0 87.9h0M103.6 85.9h0M104.1 84.8h0M103.9 81.6h0M103.3 73.3h0M103.4 66.4h0M103.6 136.4h0M103.9 137.3h0M104.0 145.5h0M103.3 147.8h0M103.8 148.2h0M103.3 158.4h0M103.7 158.8h0M104.7 94.7h0M104.9 93.3h0M105.2 93.5h0M104.9 93.3h0M104.9 93.0h0M104.8 92.5h0M104.6 90.9h0M104.3 84.4h0M104.8 64.4h0M104.4 136.7h0M104.8 137.2h0M105.2 137.4h0M104.9 139.6h0M104.3 140.6h0M104.5 141.8h0M105.1 141.9h0M104.6 142.5h0M104.7 144.9h0M104.9 159.9h0M104.8 159.6h0M105.9 92.6h0M105.9 73.4h0M106.1 137.7h0M105.7 139.0h0M105.6 139.3h0M105.6 141.9h0M106.1 150.1h0M106.6 95.0h0M106.3 94.8h0M107.0 94.2h0M106.4 93.8h0M106.5 93.0h0M106.4 86.6h0M106.4 86.1h0M106.5 86.2h0M106.9 139.6h0M107.1 140.5h0M107.2 144.1h0M107.0 148.5h0M106.9 148.3h0M106.7 149.6h0M106.4 150.0h0M106.8 153.2h0M106.3 153.5h0M106.5 154.9h0M106.9 159.3h0M106.6 159.0h0M106.7 159.5h0M107.5 94.6h0M108.2 93.5h0M108.2 93.2h0M108.1 92.5h0M108.2 77.1h0M107.9 138.0h0M107.9 139.3h0M107.8 140.1h0M107.7 140.3h0M107.7 141.5h0M107.9 145.6h0M107.6 158.9h0M108.3 95.3h0M108.5 94.8h0M108.8 93.5h0M108.3 92.0h0M108.3 91.8h0M108.5 91.6h0M108.8 82.6h0M109.1 143.8h0M109.1 144.3h0M108.3 148.2h0M108.4 149.8h0M109.3 95.3h0M110.1 93.8h0M109.3 92.2h0M109.7 89.0h0M110.0 82.6h0M110.2 68.5h0M109.6 139.9h0M110.0 140.7h0M109.4 145.8h0M109.3 146.5h0M110.0 147.7h0M110.0 156.0h0M109.7 158.7h0M110.5 93.1h0M110.4 92.6h0M111.0 91.1h0M111.1 89.3h0M110.9 66.9h0M110.6 138.3h0M110.5 139.7h0M110.5 141.0h0M110.7 141.6h0M110.7 142.2h0M110.6 146.6h0M110.8 146.6h0M110.4 160.0h0M111.9 95.0h0M111.7 94.5h0M111.8 94.2h0M111.7 92.1h0M112.1 88.8h0M111.4 89.1h0M111.8 84.0h0M111.4 83.1h0M111.5 77.3h0M111.7 138.2h0M112.2 139.7h0M111.5 141.4h0M111.5 150.8h0M111.4 159.8h0M112.8 95.2h0M113.0 94.3h0M113.1 89.7h0M112.6 87.4h0M112.7 86.6h0M112.9 67.4h0M112.9 138.8h0M112.7 139.4h0M112.5 140.6h0M112.7 141.2h0M112.4 142.0h0M112.9 143.4h0M112.6 148.2h0M113.7 95.0h0M113.5 91.7h0M113.7 89.3h0M113.7 78.6h0M113.9 77.5h0M113.4 139.1h0M113.3 140.7h0M113.3 141.0h0M114.2 141.2h0M113.7 141.2h0M113.6 141.8h0M114.2 142.8h0M113.3 149.5h0M113.6 154.2h0M113.6 160.0h0M114.7 96.1h0M114.5 96.0h0M114.7 95.5h0M115.1 95.6h0M115.1 95.6h0M114.7 94.9h0M114.4 94.1h0M115.1 93.5h0M115.2 92.7h0M114.6 138.8h0M114.5 138.7h0M114.9 139.2h0M115.2 141.5h0M114.3 141.3h0M114.5 144.9h0M114.7 149.4h0M114.9 151.3h0M115.3 95.9h0M115.3 95.8h0M116.0 94.9h0M115.3 94.4h0M116.2 93.9h0M116.0 91.0h0M115.4 88.7h0M116.1 85.3h0M115.5 80.1h0M115.4 80.0h0M116.1 78.2h0M115.4 77.4h0M115.9 70.4h0M116.2 64.3h0M115.5 138.9h0M115.5 139.4h0M115.5 139.9h0M116.2 144.2h0M115.7 150.6h0M115.8 156.5h0M115.4 160.7h0M116.7 96.3h0M116.3 95.5h0M116.7 94.5h0M116.7 93.0h0M116.6 89.2h0M117.1 87.9h0M117.0 84.7h0M116.3 84.3h0M116.3 77.0h0M116.6 139.2h0M117.1 139.4h0M116.3 142.1h0M117.0 147.4h0M117.2 152.5h0M116.5 155.7h0M116.4 159.8h0M117.1 160.3h0M117.6 94.7h0M118.0 91.6h0M117.5 88.5h0M117.4 87.0h0M118.1 76.3h0M117.4 72.8h0M117.7 139.2h0M117.8 141.1h0M117.6 147.9h0M117.3 149.0h0M117.6 150.8h0M117.5 152.3h0M117.8 155.2h0M118.2 156.4h0M117.4 156.4h0M117.5 158.3h0M118.0 160.6h0M118.9 96.5h0M118.3 96.1h0M119.2 95.0h0M118.7 93.0h0M119.0 91.1h0M119.1 90.7h0M119.2 87.7h0M119.1 140.6h0M118.6 140.6h0M118.8 141.1h0M119.2 141.9h0M118.7 142.3h0M118.5 142.3h0M118.6 142.8h0M118.3 142.8h0M119.0 149.2h0M119.2 150.5h0M118.8 156.7h0M119.6 94.4h0M119.5 94.2h0M119.9 93.6h0M119.3 92.9h0M119.8 90.4h0M120.2 76.9h0M119.3 66.7h0M120.2 140.1h0M119.6 141.1h0M119.9 141.1h0M120.2 141.7h0M119.8 143.7h0M119.6 144.9h0M119.6 147.6h0M120.9 96.5h0M120.3 95.5h0M120.6 95.2h0M121.1 95.2h0M121.2 95.2h0M120.4 94.8h0M120.8 94.9h0M120.4 94.3h0M120.3 92.8h0M121.0 91.9h0M120.5 86.8h0M121.1 83.0h0M120.5 82.4h0M121.0 139.5h0M120.7 140.4h0M120.8 146.7h0M121.0 148.3h0M120.4 148.9h0M120.9 153.2h0M120.5 157.2h0M121.7 96.6h0M122.0 96.5h0M122.0 94.7h0M121.3 93.3h0M121.3 90.3h0M121.9 85.7h0M121.6 83.5h0M121.3 79.6h0M121.5 70.3h0M121.6 141.2h0M121.5 147.0h0M121.9 151.6h0M121.9 152.1h0M121.6 157.8h0M122.3 94.8h0M123.0 87.1h0M123.2 87.1h0M122.4 84.2h0M123.2 82.9h0M122.4 78.5h0M122.5 139.9h0M123.1 139.9h0M123.1 140.4h0M123.0 141.8h0M123.2 149.1h0M123.0 149.5h0M122.4 150.4h0M123.0 150.7h0M123.2 152.8h0M122.6 153.5h0M123.6 96.9h0M123.3 96.4h0M123.5 96.1h0M123.8 95.1h0M123.7 90.1h0M123.8 89.3h0M123.8 85.5h0M123.9 83.8h0M123.6 139.7h0M124.1 143.3h0M124.8 95.5h0M124.5 95.5h0M124.3 95.8h0M125.2 94.9h0M124.8 93.5h0M125.1 93.7h0M124.9 90.2h0M124.3 81.4h0M124.7 71.6h0M124.6 69.0h0M125.0 139.3h0M124.5 139.5h0M125.2 140.0h0M124.4 140.9h0M124.3 146.9h0M125.0 151.9h0M124.5 153.0h0M125.3 96.8h0M125.4 95.7h0M125.9 93.9h0M125.6 88.3h0M125.8 85.4h0M125.6 84.6h0M126.1 139.7h0M125.7 139.4h0M126.1 139.8h0M125.3 140.8h0M125.4 142.2h0M125.8 142.5h0M125.3 146.8h0M125.3 148.1h0M125.9 148.6h0M125.7 149.5h0M125.9 153.8h0M126.7 96.0h0M126.7 95.6h0M126.7 95.2h0M126.4 94.6h0M126.9 94.3h0M126.3 91.6h0M126.9 85.8h0M127.1 76.9h0M126.3 71.9h0M126.8 141.2h0M127.1 142.2h0M127.1 143.6h0M126.3 144.8h0M126.7 145.5h0M126.9 146.0h0M126.5 145.7h0M127.3 96.8h0M128.1 94.7h0M127.5 140.5h0M127.5 140.4h0M128.2 142.8h0M127.7 142.8h0M127.6 145.2h0M128.1 146.1h0M127.6 147.7h0M127.4 150.2h0M127.5 152.0h0M127.6 152.5h0M127.7 153.2h0M128.2 161.0h0M129.1 96.0h0M128.5 95.0h0M129.1 94.7h0M128.5 93.5h0M128.9 87.0h0M128.3 85.0h0M128.4 143.2h0M128.7 144.2h0M128.5 151.5h0M128.7 156.4h0M130.0 95.7h0M129.3 89.6h0M129.3 84.9h0M130.0 83.3h0M129.5 139.3h0M129.8 139.8h0M129.6 140.4h0M130.2 141.9h0M129.6 142.9h0M129.6 145.5h0M129.9 146.0h0M129.6 150.7h0M129.3 155.2h0M129.7 160.1h0M130.5 96.6h0M130.7 96.2h0M130.5 94.7h0M131.2 86.0h0M130.7 139.5h0M130.5 139.0h0M130.8 139.5h0M131.0 140.1h0M131.0 141.7h0M131.2 142.3h0M131.2 146.5h0M130.7 154.0h0M131.0 157.9h0M130.6 158.2h0M131.1 161.7h0M131.7 96.7h0M131.7 96.0h0M131.7 91.0h0M132.1 139.6h0M131.7 139.9h0M132.0 140.9h0M132.1 141.0h0M131.4 142.4h0M131.7 144.2h0M131.5 145.3h0M131.7 155.1h0M131.7 155.8h0M133.0 96.6h0M133.0 95.3h0M133.0 92.0h0M133.1 88.0h0M132.8 87.2h0M132.3 86.8h0M133.2 65.8h0M132.3 139.3h0M132.4 139.6h0M132.8 140.1h0M133.0 142.1h0M132.8 144.5h0M133.2 144.8h0M133.0 150.8h0M133.2 151.3h0M133.8 95.7h0M134.1 95.5h0M133.6 95.0h0M133.5 94.5h0M134.1 94.0h0M134.2 94.1h0M133.3 89.0h0M133.5 79.4h0M133.8 143.6h0M133.3 146.0h0M134.1 151.9h0M134.7 95.8h0M134.5 94.6h0M134.4 93.1h0M134.8 89.5h0M135.0 87.1h0M134.5 139.1h0M134.7 139.7h0M135.0 143.9h0M134.8 156.2h0M135.5 96.8h0M135.6 96.4h0M135.9 95.0h0M135.9 93.4h0M135.3 93.1h0M135.3 91.7h0M136.2 90.2h0M135.4 82.9h0M136.1 80.2h0M135.7 80.1h0M135.5 139.2h0M136.2 139.0h0M135.7 139.6h0M136.0 140.1h0M135.7 140.3h0M136.0 144.7h0M135.6 145.8h0M136.0 146.8h0M135.4 147.6h0M135.6 150.7h0M135.8 155.7h0M136.2 155.6h0M135.8 160.2h0M136.8 96.1h0M137.0 95.4h0M136.8 95.1h0M136.6 94.2h0M137.2 93.7h0M137.0 88.3h0M136.7 142.4h0M136.4 145.8h0M136.9 148.1h0M137.1 147.9h0M136.7 159.3h0M136.3 161.5h0M137.8 96.6h0M137.7 95.5h0M137.8 95.3h0M137.3 94.6h0M138.0 71.5h0M137.3 141.2h0M138.2 142.7h0M137.6 143.6h0M137.7 143.8h0M138.1 146.1h0M137.5 149.4h0M137.8 149.2h0M139.0 95.7h0M138.6 88.8h0M138.8 86.8h0M138.6 77.7h0M138.4 67.4h0M138.7 141.5h0M138.9 141.3h0M138.4 147.5h0M139.2 148.4h0M138.6 150.9h0M138.6 153.9h0M139.1 154.1h0M138.8 157.0h0M138.4 157.7h0M139.2 159.2h0M140.2 96.1h0M140.2 94.1h0M139.8 93.5h0M139.4 86.1h0M140.2 80.4h0M139.3 76.0h0M140.2 139.7h0M139.9 140.5h0M140.0 142.1h0M139.3 143.9h0M139.3 145.9h0M139.5 148.9h0M140.2 154.4h0M139.5 156.7h0M140.9 96.4h0M140.7 95.7h0M140.6 95.1h0M140.8 94.5h0M140.7 90.9h0M140.4 90.5h0M140.3 89.9h0M140.8 82.5h0M141.1 71.8h0M141.1 139.4h0M140.6 140.6h0M141.1 161.7h0M142.0 96.3h0M141.7 95.3h0M141.5 94.2h0M141.6 86.6h0M141.6 140.1h0M142.1 141.7h0M141.4 142.8h0M141.3 144.4h0M141.5 145.1h0M141.6 149.4h0M142.2 154.5h0M142.2 156.1h0M141.9 158.8h0M141.4 161.9h0M142.8 96.7h0M142.7 96.4h0M142.5 95.9h0M143.0 94.2h0M142.3 92.0h0M142.7 87.7h0M142.6 84.8h0M143.0 76.3h0M143.0 138.1h0M142.4 143.8h0M143.1 145.9h0M142.6 147.1h0M142.4 148.7h0M143.0 154.9h0M144.2 96.5h0M143.7 96.2h0M143.3 95.0h0M143.5 91.4h0M143.7 90.9h0M144.2 91.2h0M143.8 138.7h0M143.7 139.3h0M143.3 140.7h0M143.5 146.0h0M143.8 148.3h0M143.4 151.0h0M145.0 94.7h0M144.5 93.4h0M144.3 91.2h0M144.5 90.9h0M145.0 88.4h0M144.4 82.0h0M144.5 79.7h0M144.4 138.0h0M144.3 139.4h0M144.3 143.1h0M145.1 143.9h0M144.8 145.5h0M144.8 145.6h0M144.3 147.3h0M145.0 160.3h0M145.9 96.5h0M145.8 94.5h0M145.4 91.8h0M145.3 91.2h0M145.5 90.1h0M145.4 88.9h0M146.0 82.1h0M145.8 138.2h0M145.6 139.2h0M146.0 141.1h0M145.4 146.0h0M146.2 147.9h0M146.1 153.3h0M145.4 153.9h0M146.6 96.5h0M146.6 95.1h0M146.3 95.2h0M146.4 91.9h0M147.2 87.4h0M146.8 79.1h0M146.7 77.4h0M146.5 76.9h0M146.4 137.1h0M146.5 138.1h0M147.2 139.1h0M146.9 139.7h0M146.7 140.3h0M146.7 142.1h0M147.0 143.5h0M146.9 146.2h0M146.7 146.8h0M147.0 148.9h0M147.0 154.0h0M147.6 95.8h0M147.8 95.4h0M147.8 95.3h0M147.3 95.0h0M147.3 93.0h0M147.4 92.5h0M148.0 90.4h0M147.7 83.3h0M147.5 77.7h0M147.5 66.3h0M147.8 65.5h0M148.2 65.3h0M147.8 137.0h0M147.4 138.7h0M147.4 142.1h0M148.2 143.2h0M147.3 147.2h0M147.7 150.2h0M148.1 150.6h0M147.6 151.0h0M147.9 155.2h0M147.8 155.8h0M147.8 158.7h0M147.5 160.0h0M148.5 95.8h0M149.2 95.4h0M149.2 94.5h0M148.7 91.2h0M148.4 86.1h0M148.7 73.1h0M148.9 137.2h0M148.9 139.1h0M149.1 139.5h0M148.9 140.6h0M148.8 143.5h0M149.1 144.1h0M149.4 96.1h0M149.5 96.1h0M150.1 95.9h0M150.0 90.9h0M150.2 90.2h0M149.9 81.4h0M149.4 136.7h0M149.7 136.6h0M150.1 137.1h0M149.5 138.6h0M149.5 140.2h0M149.8 141.1h0M149.7 141.7h0M150.1 143.6h0M149.9 144.4h0M150.1 150.0h0M149.3 150.4h0M149.5 151.9h0M151.2 94.4h0M150.9 93.8h0M150.4 92.6h0M150.7 89.1h0M151.1 87.2h0M151.2 80.1h0M151.0 136.3h0M151.0 138.6h0M151.2 139.9h0M151.0 141.4h0M151.2 142.4h0M151.0 151.4h0M151.4 95.4h0M151.6 95.1h0M151.5 94.2h0M151.8 93.6h0M152.1 93.1h0M151.6 90.7h0M152.2 84.2h0M151.3 75.0h0M151.8 136.9h0M152.0 143.8h0M151.8 144.9h0M152.1 147.7h0M152.0 153.4h0M151.4 154.5h0M152.2 160.9h0M151.8 161.0h0M153.2 96.7h0M153.1 95.3h0M152.8 94.7h0M153.0 94.9h0M152.9 94.2h0M152.3 93.6h0M152.9 86.1h0M152.8 85.4h0M152.6 80.1h0M152.6 73.7h0M152.3 70.4h0M152.7 135.7h0M152.3 136.9h0M152.8 136.9h0M152.4 140.9h0M153.1 141.5h0M152.6 143.0h0M152.4 145.7h0M152.7 152.0h0M153.8 96.2h0M153.5 96.0h0M153.8 96.1h0M153.5 95.7h0M153.9 94.9h0M153.8 94.7h0M153.4 93.6h0M153.5 89.5h0M153.4 86.2h0M153.6 85.0h0M153.9 136.1h0M154.1 135.9h0M153.3 136.2h0M154.1 137.0h0M153.4 137.1h0M154.1 138.6h0M153.6 140.3h0M153.3 141.8h0M153.3 142.7h0M153.4 145.2h0M154.1 148.2h0M153.9 152.1h0M153.8 155.4h0M153.8 158.4h0M154.9 96.3h0M155.0 96.4h0M154.9 94.7h0M154.6 94.3h0M155.2 93.5h0M155.0 93.4h0M154.6 93.5h0M154.4 92.3h0M155.0 90.6h0M154.6 89.7h0M155.1 87.7h0M154.6 88.1h0M154.3 85.5h0M154.8 80.5h0M155.2 77.8h0M154.6 76.2h0M154.5 73.7h0M154.7 135.2h0M154.7 135.7h0M154.7 136.7h0M154.5 136.7h0M154.3 137.4h0M154.4 137.0h0M154.4 140.7h0M154.7 145.9h0M154.9 147.9h0M155.5 95.4h0M155.4 95.0h0M156.2 94.8h0M155.9 92.7h0M155.4 82.9h0M155.9 135.1h0M156.0 135.3h0M155.7 135.5h0M155.6 135.9h0M156.1 137.4h0M156.1 140.3h0M155.5 141.4h0M155.9 147.6h0M155.8 149.3h0M157.0 95.4h0M156.6 92.0h0M156.3 91.9h0M156.6 91.5h0M156.3 85.4h0M156.6 135.7h0M156.8 135.8h0M157.2 136.4h0M156.3 138.9h0M156.6 142.9h0M157.3 96.6h0M157.5 94.8h0M158.1 92.5h0M157.3 91.3h0M157.9 78.2h0M157.4 65.4h0M157.6 134.7h0M157.6 138.0h0M157.5 143.7h0M157.8 149.2h0M157.9 153.7h0M158.9 95.4h0M159.0 95.0h0M158.8 93.9h0M159.1 93.2h0M159.1 92.4h0M158.4 90.3h0M158.3 87.7h0M158.9 77.2h0M158.7 66.7h0M158.3 134.0h0M158.6 134.9h0M158.8 134.7h0M158.6 135.3h0M159.2 140.8h0M158.7 140.7h0M158.6 155.5h0M159.5 95.9h0M159.6 91.7h0M160.0 134.2h0M159.4 135.1h0M159.5 136.3h0M159.8 138.0h0M159.9 138.1h0M159.5 141.5h0M159.3 144.6h0M159.5 145.4h0M161.0 90.8h0M160.6 87.8h0M161.1 133.6h0M160.7 134.2h0M160.6 135.7h0M160.4 136.7h0M160.7 147.4h0M160.9 147.9h0M160.7 153.1h0M161.2 153.1h0M160.6 153.3h0M161.8 95.9h0M162.0 94.7h0M161.7 94.8h0M161.5 93.8h0M161.4 93.9h0M161.8 92.3h0M162.1 81.2h0M161.7 134.6h0M161.3 137.1h0M161.7 143.1h0M161.4 143.3h0M162.0 146.1h0M161.4 152.1h0M161.9 156.8h0M161.6 157.1h0M162.2 161.6h0M162.7 95.3h0M163.2 94.2h0M162.3 93.3h0M163.2 90.2h0M162.4 86.0h0M162.3 85.8h0M162.3 81.0h0M162.8 76.3h0M162.8 76.6h0M162.6 73.5h0M163.1 64.6h0M163.0 133.5h0M162.6 137.3h0M162.3 138.4h0M162.4 139.3h0M162.7 141.8h0M162.5 146.3h0M163.1 150.9h0M162.9 155.0h0M163.0 154.9h0M162.5 155.8h0M162.4 161.9h0M163.9 96.6h0M163.3 96.3h0M163.8 96.1h0M164.2 95.3h0M163.5 94.7h0M163.3 94.8h0M163.8 94.5h0M163.4 94.2h0M164.0 88.3h0M164.0 86.0h0M163.3 85.4h0M163.7 135.2h0M163.6 136.0h0M163.5 136.9h0M164.0 141.4h0M163.9 147.9h0M163.8 150.8h0M163.5 152.2h0M163.9 155.7h0M165.2 94.7h0M165.2 94.8h0M164.8 92.6h0M165.0 92.2h0M164.5 88.8h0M164.5 81.8h0M164.7 75.6h0M164.9 133.7h0M164.6 133.8h0M164.9 134.0h0M165.2 134.2h0M164.7 137.2h0M164.5 139.2h0M164.6 143.1h0M164.7 144.8h0M164.8 145.1h0M164.5 150.2h0M165.0 156.8h0M165.4 95.0h0M166.2 92.5h0M165.8 90.7h0M165.8 89.9h0M165.6 86.9h0M165.7 85.8h0M166.1 132.3h0M165.3 132.2h0M165.3 135.7h0M165.5 138.3h0M165.9 144.8h0M165.5 153.6h0M166.1 161.0h0M167.1 96.1h0M166.8 96.1h0M166.4 93.8h0M166.6 86.6h0M166.5 81.4h0M166.6 72.3h0M166.7 70.9h0M166.3 132.6h0M166.4 132.5h0M166.7 133.3h0M166.4 134.9h0M166.8 144.4h0M167.1 146.1h0M166.4 152.0h0M166.7 152.1h0M167.6 96.2h0M167.8 95.8h0M167.6 95.1h0M167.4 83.3h0M167.3 71.7h0M168.1 132.0h0M167.3 132.4h0M168.2 132.2h0M168.1 132.2h0M167.7 132.3h0M167.3 133.6h0M167.7 133.6h0M167.3 137.2h0M167.9 137.2h0M167.8 143.9h0M167.8 149.1h0M167.8 158.4h0M168.3 96.4h0M168.8 95.7h0M168.7 93.7h0M168.3 93.7h0M168.3 93.5h0M169.0 93.0h0M169.2 82.5h0M168.5 81.0h0M168.4 74.8h0M168.5 74.7h0M168.6 131.8h0M168.9 132.2h0M169.1 132.8h0M169.2 135.2h0M168.7 137.1h0M168.9 137.8h0M168.8 148.7h0M169.2 150.4h0M168.6 154.3h0M169.1 159.6h0M169.7 96.4h0M169.5 96.3h0M170.2 96.4h0M170.2 95.8h0M170.0 95.8h0M169.6 94.9h0M170.0 95.0h0M170.1 90.7h0M169.5 90.0h0M169.9 80.2h0M169.3 131.2h0M169.5 132.3h0M170.2 134.0h0M169.7 133.7h0M169.9 136.9h0M169.3 141.8h0M169.8 159.3h0M170.8 96.2h0M170.7 95.1h0M170.7 92.4h0M171.0 90.1h0M171.2 76.1h0M170.6 130.9h0M170.3 131.2h0M170.9 132.5h0M171.0 136.2h0M170.6 139.3h0M170.6 148.9h0M170.4 149.7h0M171.1 155.1h0M171.5 96.4h0M171.5 95.0h0M171.8 92.8h0M172.1 87.4h0M172.1 86.9h0M171.8 82.3h0M172.1 131.1h0M172.0 131.4h0M171.9 134.7h0M171.5 135.8h0M171.8 142.6h0M171.5 145.4h0M171.5 154.6h0M172.1 154.8h0M171.5 157.9h0M172.5 95.5h0M172.6 95.0h0M172.8 94.9h0M173.2 91.7h0M172.3 87.0h0M172.7 84.7h0M172.3 84.2h0M173.0 84.5h0M173.1 77.7h0M173.2 130.6h0M173.2 130.7h0M172.8 134.5h0M172.3 136.9h0M173.1 137.5h0M172.5 145.9h0M173.4 94.1h0M173.9 94.3h0M173.4 86.4h0M173.9 135.4h0M173.6 137.8h0M173.5 138.3h0M173.7 141.3h0M174.1 141.2h0M173.7 148.7h0M173.5 150.7h0M173.8 154.9h0M174.0 157.7h0M174.0 159.1h0M174.9 94.9h0M175.2 94.1h0M174.3 91.9h0M174.3 89.9h0M174.6 88.0h0M175.0 82.6h0M174.8 76.9h0M174.4 67.1h0M174.5 129.7h0M174.9 129.9h0M174.7 131.9h0M174.8 132.5h0M174.4 133.4h0M174.5 141.9h0M174.5 144.2h0M176.2 95.3h0M176.0 93.7h0M176.2 93.5h0M175.6 93.4h0M175.4 93.3h0M175.6 93.4h0M175.9 92.9h0M176.2 91.0h0M176.2 89.6h0M175.9 78.7h0M176.1 70.7h0M176.0 130.5h0M175.6 130.6h0M175.4 130.8h0M176.1 132.0h0M175.3 131.6h0M175.9 132.0h0M175.8 138.1h0M176.0 137.9h0M175.3 142.6h0M176.6 93.0h0M176.5 92.4h0M177.0 91.0h0M176.9 81.9h0M176.8 78.5h0M176.9 74.3h0M177.2 73.3h0M176.7 129.3h0M176.3 130.7h0M177.2 132.0h0M176.6 134.2h0M176.7 148.2h0M176.4 159.7h0M177.6 94.7h0M177.9 94.8h0M177.7 94.8h0M177.9 94.5h0M177.9 93.7h0M177.5 93.3h0M177.8 91.3h0M177.7 90.4h0M177.9 88.8h0M177.9 88.3h0M177.7 84.7h0M178.0 65.7h0M177.4 129.0h0M178.0 128.8h0M178.1 128.7h0M178.0 128.7h0M178.0 129.6h0M178.2 129.2h0M177.6 129.9h0M178.1 132.1h0M177.6 135.7h0M177.8 137.5h0M178.2 139.6h0M177.5 142.2h0M178.0 158.7h0M179.2 94.4h0M178.8 127.8h0M178.9 128.4h0M178.6 128.9h0M178.5 129.8h0M178.5 136.6h0M178.4 144.5h0M178.6 148.6h0M179.0 150.8h0M178.7 157.6h0M179.4 92.1h0M179.7 88.4h0M179.9 88.6h0M180.2 87.7h0M180.1 85.0h0M179.9 83.7h0M180.1 79.5h0M179.9 78.0h0M180.0 68.3h0M180.0 127.9h0M180.0 128.9h0M179.6 131.7h0M179.6 142.7h0M179.3 143.0h0M179.8 149.9h0M180.8 90.5h0M180.4 87.1h0M180.3 127.0h0M180.7 128.7h0M180.7 133.3h0M180.9 138.5h0M180.9 142.6h0M181.3 93.4h0M181.4 93.6h0M181.6 93.4h0M182.0 92.0h0M181.3 90.8h0M181.3 90.9h0M182.1 90.3h0M181.7 89.9h0M181.7 87.3h0M181.3 85.0h0M181.5 67.5h0M181.9 126.2h0M181.9 126.4h0M182.0 127.0h0M182.2 126.9h0M182.0 127.2h0M181.8 127.3h0M181.3 128.0h0M182.2 131.5h0M181.8 131.6h0M181.9 131.5h0M181.3 132.1h0M181.4 136.3h0M181.5 139.4h0M182.0 144.4h0M181.7 161.4h0M183.1 91.9h0M182.4 91.9h0M183.0 90.4h0M182.3 89.5h0M182.5 72.8h0M182.6 127.1h0M182.7 127.0h0M183.1 126.8h0M182.4 127.5h0M183.0 127.8h0M182.9 130.4h0M183.0 141.3h0M182.4 142.4h0M183.0 145.9h0M182.6 147.6h0M182.6 162.0h0M184.1 92.1h0M183.5 91.9h0M184.1 91.5h0M184.1 90.1h0M183.5 85.1h0M183.6 83.4h0M183.6 83.4h0M183.4 75.2h0M183.3 125.6h0M184.2 125.7h0M183.3 126.1h0M183.8 126.4h0M183.8 127.7h0M183.5 128.5h0M184.1 128.9h0M183.9 132.1h0M183.7 133.2h0M183.4 135.9h0M184.4 90.9h0M184.5 86.6h0M184.4 66.7h0M184.8 124.8h0M184.4 125.4h0M184.3 126.8h0M184.5 130.6h0M184.8 131.1h0M184.3 132.9h0M185.1 137.9h0M185.0 139.8h0M184.3 141.7h0M185.3 91.4h0M185.6 91.3h0M185.5 91.2h0M185.5 90.5h0M185.8 90.4h0M185.6 90.4h0M185.5 89.3h0M185.3 82.4h0M185.9 124.2h0M186.1 124.6h0M185.6 124.3h0M185.9 124.2h0M185.7 125.4h0M185.9 131.4h0M185.6 135.2h0M186.0 141.2h0M186.0 141.8h0M185.6 147.9h0M186.1 148.2h0M187.1 91.1h0M186.9 90.2h0M186.7 90.0h0M187.1 89.6h0M186.3 88.9h0M186.5 87.4h0M186.6 80.2h0M186.3 124.0h0M186.8 123.8h0M187.1 124.4h0M186.6 125.0h0M187.0 125.1h0M186.9 125.6h0M187.1 126.0h0M187.2 126.8h0M186.8 126.8h0M186.7 129.0h0M186.4 131.3h0M186.3 132.8h0M186.5 132.8h0M186.8 134.4h0M187.1 135.1h0M186.5 136.7h0M187.2 142.2h0M187.0 146.3h0M186.8 150.6h0M187.1 152.5h0M187.3 90.7h0M187.9 89.3h0M187.7 88.3h0M187.6 123.2h0M187.3 123.8h0M188.2 123.7h0M188.1 124.5h0M187.8 124.2h0M187.8 127.0h0M188.2 133.7h0M187.6 135.6h0M188.1 143.1h0M187.9 153.3h0M188.4 90.2h0M188.4 89.9h0M189.2 88.9h0M188.4 86.5h0M188.3 81.6h0M189.0 79.7h0M188.5 64.3h0M189.2 123.0h0M188.4 123.3h0M188.9 127.5h0M188.7 129.4h0M188.4 134.9h0M188.5 138.2h0M189.1 154.3h0M190.0 91.1h0M189.9 89.9h0M189.9 89.0h0M189.8 86.3h0M189.5 83.3h0M189.8 82.5h0M189.8 79.7h0M189.6 70.9h0M190.2 123.1h0M190.0 123.0h0M189.4 123.1h0M189.7 123.5h0M189.8 123.5h0M189.4 123.3h0M189.8 123.7h0M189.3 124.7h0M189.8 131.8h0M189.9 131.7h0M190.0 136.5h0M189.5 137.1h0M189.3 139.8h0M189.6 142.4h0M189.4 142.1h0M189.7 152.2h0M189.6 155.4h0M189.7 161.4h0M190.8 82.5h0M190.6 74.1h0M190.9 121.8h0M190.5 122.2h0M190.5 123.1h0M190.3 123.3h0M190.8 123.3h0M190.4 124.6h0M190.7 127.7h0M190.8 129.0h0M190.9 129.2h0M190.5 130.8h0M190.8 134.3h0M192.0 89.8h0M191.5 88.2h0M191.9 88.0h0M191.4 79.4h0M191.5 78.5h0M191.8 77.6h0M191.9 70.1h0M191.9 65.0h0M192.2 121.3h0M191.8 121.4h0M192.0 122.4h0M192.0 126.2h0M192.1 134.8h0M191.3 142.8h0M193.2 89.8h0M193.0 86.2h0M193.2 73.0h0M192.7 70.1h0M193.2 121.0h0M192.5 121.8h0M192.3 122.1h0M192.6 127.6h0M193.2 132.7h0M192.3 135.3h0M192.7 137.0h0M193.6 88.9h0M194.0 88.8h0M194.0 87.8h0M193.4 86.5h0M193.6 81.1h0M194.0 79.9h0M193.6 79.0h0M194.0 77.3h0M193.3 121.6h0M193.8 122.7h0M194.0 125.6h0M194.1 126.1h0M193.7 127.8h0M193.9 131.6h0M193.6 133.1h0M193.6 137.8h0M193.3 150.4h0M194.3 88.7h0M194.6 88.7h0M195.1 88.9h0M194.4 87.2h0M195.1 87.0h0M194.9 72.9h0M194.3 121.4h0M194.5 126.9h0M195.1 129.7h0M195.0 136.0h0M194.4 144.8h0M194.6 146.6h0M195.6 85.6h0M196.0 79.5h0M196.0 74.1h0M195.4 121.1h0M195.4 121.8h0M195.8 126.4h0M196.1 127.1h0M195.4 149.6h0M196.7 89.3h0M196.7 88.8h0M196.6 80.8h0M197.1 68.4h0M196.6 119.9h0M196.9 121.3h0M196.5 129.6h0M197.1 130.7h0M196.6 135.4h0M197.8 88.8h0M197.4 87.4h0M197.3 84.9h0M197.5 83.6h0M197.5 76.1h0M197.3 120.5h0M197.5 123.3h0M198.2 126.8h0M197.9 128.4h0M198.2 135.2h0M197.5 139.7h0M197.5 140.8h0M197.9 144.7h0M198.7 88.4h0M198.3 87.6h0M199.2 87.5h0M198.4 85.8h0M198.5 84.0h0M199.0 82.2h0M198.3 78.9h0M198.9 70.2h0M198.8 68.1h0M199.1 119.9h0M199.0 119.8h0M198.4 123.4h0M198.7 124.2h0M198.5 126.0h0M199.1 127.4h0M198.8 127.6h0M199.0 129.9h0M198.5 130.8h0M198.5 132.4h0M198.3 135.7h0M198.7 135.7h0M198.4 156.7h0M199.5 84.1h0M199.8 84.1h0M199.5 78.9h0M199.6 79.0h0M199.5 74.8h0M199.7 121.8h0M200.0 122.9h0M199.5 125.1h0M199.8 131.0h0M199.7 135.6h0M199.8 142.9h0M199.9 148.6h0M201.1 87.5h0M200.4 87.6h0M200.9 87.1h0M201.2 85.9h0M200.8 82.3h0M200.5 73.0h0M200.6 120.2h0M200.4 121.0h0M201.1 121.8h0M200.3 121.8h0M200.9 124.1h0M200.6 126.1h0M200.6 135.4h0M201.2 141.7h0M200.6 147.6h0M200.6 147.9h0M202.0 88.3h0M202.0 86.3h0M201.9 83.9h0M201.7 83.4h0M202.1 82.3h0M201.3 80.3h0M201.5 76.3h0M201.4 74.3h0M201.6 119.4h0M201.5 121.7h0M201.7 129.5h0M201.8 129.9h0M202.1 131.4h0M201.5 135.9h0M202.4 88.0h0M202.7 86.5h0M202.6 84.4h0M202.9 83.7h0M202.6 72.3h0M203.0 66.5h0M202.6 118.6h0M203.0 119.3h0M202.7 119.5h0M202.6 120.2h0M202.8 121.1h0M203.1 121.7h0M203.0 124.5h0M202.9 125.3h0M202.8 129.3h0M202.9 132.8h0M203.9 88.0h0M204.0 50.6h0M203.3 118.5h0M204.2 118.4h0M203.4 119.5h0M204.0 122.7h0M203.4 123.1h0M204.0 126.9h0M203.8 131.7h0M204.1 140.3h0M203.7 143.0h0M204.0 143.3h0M204.0 150.9h0M204.5 87.0h0M205.0 86.2h0M204.7 79.9h0M205.1 75.5h0M205.1 118.2h0M204.3 119.5h0M204.5 120.3h0M204.4 121.2h0M204.8 123.6h0M205.2 125.8h0M204.9 126.0h0M205.0 134.0h0M205.4 87.1h0M206.1 87.1h0M205.6 82.6h0M205.7 82.9h0M205.9 67.5h0M206.0 118.0h0M206.0 118.2h0M205.3 120.5h0M205.6 123.5h0M205.8 124.2h0M206.0 124.6h0M206.0 125.7h0M205.8 129.3h0M205.7 136.9h0M206.7 85.9h0M206.4 82.9h0M207.2 80.3h0M206.8 75.9h0M206.8 75.4h0M206.6 70.8h0M207.1 117.8h0M207.0 118.2h0M207.2 118.2h0M206.9 118.2h0M206.4 119.1h0M206.4 119.6h0M207.2 120.4h0M206.3 124.3h0M206.5 125.8h0M206.6 126.8h0M207.0 129.4h0M206.5 131.8h0M207.1 139.5h0M206.9 159.0h0M207.9 83.7h0M207.5 83.1h0M208.1 82.8h0M207.5 82.2h0M207.8 81.8h0M207.9 81.2h0M208.1 77.5h0M207.9 77.0h0M208.0 69.2h0M208.1 66.6h0M207.9 64.6h0M208.2 59.9h0M207.7 118.8h0M207.6 118.7h0M207.9 119.8h0M208.2 123.8h0M207.9 124.9h0M207.5 137.7h0M209.0 80.4h0M208.7 78.0h0M209.0 77.8h0M209.2 77.5h0M208.8 72.5h0M209.0 117.5h0M208.4 117.8h0M208.4 117.8h0M208.4 118.7h0M208.5 119.2h0M208.8 120.5h0M209.1 127.3h0M208.9 139.0h0M208.7 144.5h0M209.3 78.5h0M209.5 67.7h0M209.6 63.5h0M209.5 117.2h0M210.1 118.2h0M210.1 118.2h0M209.7 118.9h0M210.1 120.4h0M209.8 122.2h0M209.8 129.4h0M209.3 129.2h0M210.1 129.1h0M210.0 135.8h0M210.0 137.6h0M210.6 76.7h0M211.2 76.6h0M211.2 76.1h0M210.4 75.4h0M210.7 74.1h0M210.7 72.3h0M211.0 71.3h0M210.8 70.7h0M210.5 70.0h0M210.8 69.5h0M211.0 56.5h0M210.3 117.4h0M211.1 118.1h0M210.9 118.5h0M211.2 123.5h0M210.4 131.6h0M210.8 134.3h0M210.9 134.9h0M211.3 74.1h0M211.4 73.0h0M211.6 72.6h0M211.7 52.0h0M211.6 118.0h0M212.1 120.3h0M211.3 122.9h0M212.2 130.2h0M211.3 136.7h0M211.5 141.4h0M211.7 141.0h0M212.3 73.7h0M212.5 73.6h0M212.6 73.5h0M212.7 73.1h0M213.0 72.4h0M213.2 70.3h0M212.4 67.7h0M212.8 66.6h0M212.5 64.9h0M213.2 59.0h0M213.2 116.6h0M212.7 117.1h0M212.6 118.2h0M212.9 118.4h0M213.0 118.6h0M212.5 118.9h0M212.7 136.5h0M213.5 73.6h0M214.1 73.4h0M213.4 73.2h0M213.6 71.9h0M213.4 71.1h0M213.4 67.3h0M214.0 64.7h0M214.1 60.5h0M214.2 116.0h0M213.3 117.9h0M213.8 118.3h0M213.9 119.3h0M214.5 73.4h0M214.8 72.5h0M214.5 70.7h0M214.5 70.7h0M214.7 69.8h0M214.7 69.8h0M214.6 68.2h0M214.3 64.5h0M215.0 116.6h0M215.0 118.5h0M215.0 123.9h0M214.9 128.0h0M214.6 143.2h0M215.3 73.8h0M215.9 73.3h0M215.5 73.3h0M215.4 73.5h0M216.0 71.4h0M215.5 70.0h0M215.9 63.0h0M216.1 116.3h0M216.0 116.5h0M216.2 140.3h0M215.6 144.0h0M215.3 144.2h0M215.4 144.4h0M217.1 72.7h0M216.8 72.8h0M216.4 71.1h0M216.4 67.4h0M216.9 115.5h0M216.9 116.3h0M216.6 116.6h0M216.7 116.9h0M217.0 117.4h0M216.5 122.8h0M217.2 125.5h0M216.9 127.4h0M217.9 73.2h0M218.2 72.9h0M217.6 71.7h0M217.3 69.9h0M218.2 68.5h0M217.7 67.9h0M217.7 67.0h0M217.6 66.2h0M217.3 65.9h0M217.9 64.4h0M217.6 115.9h0M217.8 115.8h0M217.9 116.9h0M217.7 124.0h0M217.7 125.1h0M218.7 72.3h0M219.1 68.9h0M219.2 115.9h0M219.2 116.6h0M218.8 116.3h0M218.6 117.8h0M218.9 118.6h0M218.8 123.8h0M218.6 139.2h0M219.3 74.8h0M219.4 73.7h0M219.6 69.9h0M220.0 66.5h0M219.9 66.3h0M219.8 65.0h0M219.6 55.5h0M219.7 53.4h0M219.8 114.8h0M220.1 115.1h0M219.3 115.1h0M219.4 115.7h0M220.0 117.3h0M219.9 117.6h0M220.2 123.0h0M219.8 123.7h0M219.9 128.4h0M219.6 134.1h0M221.2 74.4h0M221.1 73.8h0M220.8 72.0h0M221.1 69.1h0M220.3 69.2h0M220.9 62.3h0M221.2 55.9h0M220.5 47.7h0M220.3 113.9h0M220.3 115.1h0M220.4 115.7h0M220.6 116.3h0M221.2 116.5h0M220.9 117.4h0M220.9 118.2h0M220.7 118.8h0M220.4 123.6h0M220.4 127.4h0M220.8 137.0h0M221.8 69.7h0M221.6 68.7h0M221.9 66.7h0M222.2 59.8h0M221.9 52.7h0M221.6 114.1h0M221.5 115.0h0M221.8 115.7h0M221.8 117.2h0M222.1 118.3h0M221.4 124.2h0M221.6 127.8h0M222.0 148.0h0M222.7 75.3h0M222.9 72.5h0M223.1 71.8h0M223.0 71.0h0M222.9 69.4h0M223.1 66.4h0M223.0 65.5h0M222.7 63.2h0M223.1 62.7h0M222.9 113.9h0M223.0 114.0h0M222.3 114.3h0M222.6 114.7h0M223.1 115.1h0M223.1 117.1h0M223.1 118.7h0M222.4 120.7h0M222.4 121.6h0M222.6 122.1h0M222.8 123.6h0M222.9 130.0h0M224.1 74.4h0M223.5 73.8h0M223.5 66.7h0M223.4 114.4h0M223.4 115.3h0M223.9 117.3h0M223.5 120.3h0M223.8 129.0h0M223.8 130.5h0M223.8 138.7h0M224.3 75.4h0M224.9 74.7h0M224.9 74.7h0M224.8 74.2h0M225.0 74.4h0M224.9 74.4h0M224.6 73.6h0M224.9 73.0h0M225.1 71.5h0M225.1 67.4h0M224.7 66.5h0M224.6 52.8h0M224.6 49.3h0M224.8 113.7h0M224.7 114.8h0M224.4 115.1h0M224.5 115.1h0M224.4 115.7h0M224.3 117.2h0M225.1 118.2h0M225.0 131.3h0M224.5 135.8h0M224.3 136.8h0M224.7 142.7h0M225.6 73.2h0M226.0 73.4h0M225.5 69.6h0M225.9 69.9h0M225.4 65.7h0M225.9 113.6h0M225.8 114.3h0M225.6 114.5h0M225.4 116.2h0M226.0 119.0h0M225.9 119.1h0M226.0 125.2h0M225.4 130.6h0M226.1 131.8h0M225.6 145.7h0M227.2 73.9h0M227.1 73.2h0M226.3 73.2h0M226.7 72.6h0M226.9 71.1h0M227.2 71.0h0M226.5 70.5h0M226.9 69.7h0M226.5 68.3h0M227.1 67.3h0M226.9 64.1h0M227.2 50.5h0M226.6 113.9h0M226.9 114.3h0M227.2 113.9h0M226.4 116.5h0M226.6 116.6h0M226.7 120.5h0M227.0 122.8h0M226.8 123.1h0M227.0 123.8h0M226.9 141.1h0M226.8 153.6h0M228.2 74.1h0M227.9 73.7h0M227.8 71.1h0M228.1 71.4h0M227.4 71.0h0M228.2 70.0h0M227.5 113.5h0M228.0 115.6h0M228.0 116.4h0M227.5 123.6h0M227.6 148.5h0M228.9 75.9h0M228.3 74.1h0M229.0 72.9h0M228.8 70.7h0M228.6 69.8h0M229.2 61.3h0M229.0 113.1h0M228.4 114.2h0M229.1 115.9h0M228.4 116.0h0M229.2 119.3h0M228.9 121.8h0M228.7 125.4h0M228.3 128.3h0M229.1 139.1h0M228.6 157.3h0M229.7 75.3h0M229.3 73.0h0M229.8 72.8h0M230.1 73.0h0M229.6 70.2h0M230.0 66.3h0M229.9 55.3h0M229.6 114.2h0M229.6 115.1h0M229.4 115.0h0M229.5 115.9h0M229.9 118.2h0M229.5 122.1h0M230.2 124.0h0M229.5 123.9h0M229.9 134.6h0M229.9 149.3h0M230.5 75.9h0M230.4 76.0h0M231.0 75.2h0M230.9 74.3h0M230.6 73.5h0M231.2 72.7h0M231.0 71.4h0M231.2 69.0h0M230.3 61.5h0M230.8 60.3h0M230.6 53.9h0M230.4 114.6h0M231.0 114.3h0M230.9 118.9h0M231.2 123.5h0M230.7 125.6h0M231.2 128.8h0M232.0 76.0h0M232.0 75.0h0M231.8 74.3h0M231.9 73.9h0M231.5 73.8h0M232.2 73.3h0M231.3 72.9h0M231.7 69.6h0M231.3 67.1h0M232.1 57.4h0M231.9 113.5h0M231.6 113.3h0M232.2 118.8h0M231.5 122.6h0M231.5 127.7h0M231.3 130.7h0M231.6 140.6h0M231.6 149.2h0M232.7 76.3h0M232.8 74.6h0M232.3 73.7h0M232.8 73.0h0M232.8 72.9h0M232.7 71.5h0M232.9 71.4h0M232.4 69.1h0M233.0 55.8h0M232.3 50.5h0M233.0 111.9h0M232.4 112.6h0M233.0 113.0h0M232.8 114.3h0M232.9 117.5h0M233.0 118.2h0M232.3 123.3h0M232.5 124.3h0M232.3 125.6h0M232.3 139.2h0M233.8 76.8h0M234.2 76.8h0M234.1 76.6h0M233.3 76.8h0M233.6 76.1h0M233.7 75.6h0M234.1 75.0h0M233.6 74.2h0M233.8 74.4h0M233.5 72.8h0M233.5 72.4h0M233.9 70.0h0M233.8 64.6h0M233.4 50.8h0M233.8 112.0h0M233.4 112.9h0M233.9 113.4h0M233.7 113.9h0M233.9 114.5h0M234.1 117.2h0M233.3 118.0h0M233.5 117.9h0M233.7 120.0h0M233.3 125.1h0M234.2 126.8h0M234.4 68.3h0M235.0 66.6h0M234.4 61.7h0M235.2 61.9h0M234.4 60.6h0M234.4 111.7h0M235.2 111.8h0M235.0 111.8h0M234.4 112.6h0M235.0 113.1h0M234.6 114.7h0M234.4 117.5h0M234.9 119.9h0M234.3 128.0h0M236.1 71.4h0M235.3 64.5h0M236.1 113.1h0M236.0 115.7h0M235.8 134.9h0M235.9 136.9h0M236.0 150.4h0M236.9 76.6h0M236.3 75.2h0M236.5 72.2h0M236.3 68.6h0M236.5 66.9h0M236.4 111.2h0M237.1 112.2h0M236.9 113.7h0M237.0 116.3h0M236.6 117.0h0M236.3 119.9h0M236.7 128.4h0M236.5 147.3h0M237.8 76.1h0M237.4 75.8h0M238.2 74.3h0M237.3 73.0h0M237.9 72.1h0M238.1 71.6h0M237.3 71.9h0M237.4 70.8h0M237.8 66.1h0M238.0 62.7h0M238.1 56.8h0M237.8 111.1h0M237.6 112.1h0M237.5 115.8h0M238.1 118.0h0M237.8 142.0h0M239.1 76.2h0M238.6 75.1h0M239.0 75.1h0M239.1 73.0h0M238.3 72.0h0M239.0 66.1h0M238.7 66.2h0M238.4 65.4h0M238.7 61.6h0M239.0 58.7h0M239.1 111.7h0M239.0 112.4h0M239.0 112.3h0M238.8 112.5h0M238.8 113.7h0M238.3 114.8h0M238.6 116.1h0M239.2 118.5h0M239.0 131.7h0M238.9 146.8h0M240.1 76.2h0M239.8 73.9h0M240.2 73.1h0M239.5 71.3h0M239.9 71.3h0M239.9 64.4h0M239.8 47.3h0M240.0 111.6h0M240.2 112.8h0M240.0 114.4h0M240.0 125.3h0M239.5 138.2h0M240.2 139.5h0M240.5 78.0h0M241.1 77.1h0M241.1 75.8h0M240.3 75.1h0M240.6 74.2h0M240.7 70.6h0M241.0 69.1h0M240.8 63.4h0M240.6 63.2h0M241.0 49.7h0M240.6 111.9h0M240.3 115.3h0M241.1 117.6h0M240.5 132.9h0M241.2 134.8h0M241.5 77.6h0M241.6 77.5h0M242.2 75.5h0M241.5 74.6h0M241.7 71.8h0M241.3 69.2h0M241.9 67.4h0M241.3 111.9h0M241.3 112.0h0M241.5 113.3h0M241.3 115.0h0M242.0 114.6h0M241.6 116.1h0M241.8 118.3h0M241.3 118.8h0M241.5 121.8h0M241.5 125.1h0M241.5 127.0h0M241.4 158.4h0M243.2 76.9h0M242.9 75.0h0M243.2 74.2h0M243.1 74.5h0M242.3 73.1h0M242.4 71.1h0M242.8 68.4h0M242.6 64.1h0M243.1 56.6h0M243.2 110.3h0M242.5 110.4h0M243.1 111.0h0M242.6 117.3h0M242.9 117.5h0M243.2 122.6h0M242.8 137.7h0M243.3 78.0h0M243.3 77.5h0M244.0 74.0h0M243.3 71.5h0M244.2 66.3h0M243.4 110.4h0M243.4 112.4h0M243.7 112.4h0M243.4 115.1h0M243.7 115.2h0M243.8 118.0h0M244.4 74.5h0M244.7 73.2h0M244.5 72.1h0M244.3 72.4h0M244.5 71.3h0M244.8 68.6h0M244.5 68.0h0M244.6 67.5h0M244.3 65.7h0M244.6 64.0h0M245.2 61.2h0M244.4 60.0h0M244.7 51.4h0M245.0 50.5h0M244.5 110.5h0M245.2 110.6h0M245.2 111.2h0M244.3 111.7h0M245.0 111.7h0M245.0 113.4h0M244.8 114.1h0M244.7 113.8h0M244.5 117.7h0M244.9 119.1h0M245.0 136.1h0M244.3 152.0h0M245.6 75.5h0M246.2 75.4h0M246.1 70.1h0M245.7 68.7h0M245.3 67.9h0M246.1 67.2h0M245.9 53.0h0M245.3 113.2h0M245.7 113.7h0M245.9 116.4h0M245.6 116.7h0M246.0 118.4h0M245.4 118.3h0M245.4 119.3h0M246.6 77.9h0M246.3 76.0h0M246.5 75.9h0M246.6 73.7h0M246.9 72.4h0M246.6 72.0h0M247.1 62.2h0M246.5 110.5h0M246.8 110.7h0M246.7 110.7h0M246.3 112.7h0M246.3 115.3h0M246.8 115.5h0M246.6 118.0h0M246.3 120.2h0M246.4 120.1h0M246.4 127.5h0M246.3 132.4h0M246.5 138.7h0M246.8 144.1h0M247.9 78.3h0M248.0 110.6h0M248.2 111.3h0M248.1 110.9h0M248.1 111.8h0M247.7 111.6h0M248.1 112.3h0M247.9 114.7h0M248.1 116.9h0M247.8 117.5h0M247.5 124.6h0M248.0 131.5h0M247.8 136.5h0M248.8 78.5h0M248.9 76.0h0M248.3 66.8h0M248.8 66.4h0M248.6 66.7h0M248.4 50.0h0M248.4 111.7h0M248.8 112.3h0M249.1 113.3h0M249.2 113.1h0M249.0 113.8h0M249.0 114.8h0M248.5 114.6h0M249.2 115.1h0M248.3 115.5h0M248.4 117.6h0M248.3 118.6h0M248.4 119.3h0M248.4 119.9h0M248.8 130.4h0M248.8 152.3h0M249.9 78.4h0M249.3 77.7h0M249.7 77.6h0M249.5 76.5h0M249.3 74.7h0M249.4 71.2h0M249.9 70.3h0M249.4 69.4h0M249.9 68.7h0M249.5 66.8h0M249.4 65.3h0M249.4 117.3h0M250.5 74.5h0M251.2 73.8h0M250.7 67.1h0M250.6 63.2h0M250.6 55.6h0M250.3 111.2h0M250.4 112.5h0M251.2 113.2h0M250.3 113.2h0M250.4 115.5h0M250.3 115.5h0M250.4 116.4h0M250.6 116.8h0M251.1 122.6h0M250.8 130.9h0M251.9 78.9h0M251.4 77.6h0M251.7 77.5h0M251.7 75.5h0M251.6 75.6h0M252.2 73.0h0M252.1 72.9h0M251.3 71.2h0M251.3 71.3h0M252.0 70.6h0M251.4 110.7h0M252.0 111.6h0M251.7 114.9h0M252.1 116.4h0M251.9 117.0h0M252.2 117.5h0M252.1 121.1h0M251.7 123.4h0M251.4 128.2h0M251.6 129.3h0M251.6 147.9h0M252.5 78.6h0M252.8 77.2h0M253.0 75.5h0M252.7 75.3h0M253.0 73.7h0M252.7 72.7h0M252.4 72.6h0M252.4 72.4h0M252.6 69.3h0M252.7 68.0h0M252.5 61.1h0M252.3 59.9h0M252.8 111.9h0M252.9 112.0h0M253.1 113.0h0M252.6 112.9h0M252.7 113.5h0M252.7 114.4h0M252.7 116.0h0M252.7 117.3h0M253.0 122.1h0M252.6 128.3h0M253.8 78.7h0M254.1 78.1h0M254.1 75.4h0M253.4 75.3h0M253.3 73.7h0M254.2 72.9h0M253.4 72.6h0M253.8 111.1h0M253.7 111.5h0M253.8 113.2h0M253.5 114.1h0M254.0 115.4h0M254.2 121.3h0M253.6 122.3h0M254.0 125.4h0M253.3 135.8h0M253.9 138.9h0M254.4 78.8h0M254.7 78.3h0M254.4 77.2h0M254.8 76.5h0M254.6 75.7h0M255.1 76.0h0M254.4 76.0h0M254.3 74.2h0M254.3 72.9h0M255.2 72.6h0M254.7 71.1h0M254.5 67.2h0M255.1 57.4h0M254.4 51.4h0M254.4 111.0h0M254.6 111.1h0M254.9 111.5h0M254.7 112.1h0M255.2 118.5h0M254.7 119.5h0M254.7 119.7h0M255.0 120.4h0M255.0 122.8h0M255.2 125.2h0M255.2 129.4h0M256.1 78.8h0M255.4 77.7h0M255.6 77.4h0M255.6 76.5h0M255.6 76.1h0M255.4 75.0h0M256.0 74.6h0M255.5 68.3h0M255.4 67.8h0M255.9 67.6h0M255.7 63.4h0M255.7 63.3h0M256.1 53.4h0M255.3 111.0h0M255.4 111.3h0M256.0 111.8h0M255.8 112.8h0M256.2 112.5h0M255.4 113.3h0M255.7 114.5h0M255.5 114.4h0M255.9 114.7h0M255.7 115.4h0M256.2 117.7h0M255.4 121.4h0M256.1 126.0h0M255.9 131.6h0M256.2 135.5h0M255.7 156.7h0M257.2 76.2h0M257.0 75.6h0M256.7 74.2h0M256.8 69.4h0M257.2 68.9h0M257.0 64.5h0M256.4 62.9h0M256.4 59.2h0M257.1 51.1h0M256.8 111.3h0M257.1 112.2h0M256.4 113.6h0M257.0 126.4h0M256.4 149.6h0M256.6 154.3h0M257.7 79.7h0M257.4 79.5h0M257.8 79.1h0M258.1 77.2h0M257.3 75.4h0M258.0 71.6h0M257.5 69.8h0M258.0 59.0h0M258.1 51.4h0M258.0 112.5h0M257.9 113.2h0M258.1 114.2h0M257.9 116.3h0M257.5 122.9h0M257.6 134.4h0M257.5 138.5h0M259.1 79.5h0M259.0 77.8h0M258.8 77.8h0M258.6 76.7h0M258.3 75.4h0M258.6 73.6h0M259.0 73.4h0M258.6 71.6h0M258.3 69.7h0M258.9 69.2h0M259.0 66.3h0M258.3 111.3h0M259.0 111.5h0M258.4 111.0h0M259.1 112.3h0M258.8 113.0h0M258.9 121.1h0M258.7 125.2h0M258.8 131.7h0M258.5 133.9h0M259.0 153.9h0M259.3 79.4h0M259.9 78.3h0M259.6 78.1h0M260.2 76.9h0M260.1 75.6h0M259.5 74.4h0M259.5 70.8h0M259.8 70.1h0M259.4 67.6h0M259.8 67.1h0M259.7 58.3h0M259.9 112.7h0M259.3 113.6h0M259.8 120.8h0M259.4 133.1h0M259.5 135.3h0M260.5 79.7h0M261.2 77.9h0M260.6 77.7h0M261.1 73.3h0M260.5 72.6h0M260.6 72.0h0M260.3 72.1h0M260.4 71.6h0M261.0 70.0h0M261.0 66.7h0M260.8 45.3h0M260.9 113.7h0M260.5 115.6h0M261.2 116.4h0M260.6 118.3h0M260.8 124.9h0M260.8 127.6h0M261.6 79.2h0M262.0 79.5h0M262.2 78.8h0M262.0 77.3h0M262.2 75.5h0M261.6 73.0h0M261.7 72.8h0M261.8 69.0h0M261.9 111.3h0M262.1 111.4h0M261.7 114.3h0M261.8 115.8h0M261.9 116.3h0M261.3 121.5h0M262.0 124.8h0M262.9 78.5h0M262.4 68.2h0M262.9 111.6h0M263.0 111.4h0M262.6 112.1h0M262.3 112.1h0M262.9 117.0h0M263.2 117.3h0M262.5 120.7h0M262.8 126.0h0M262.8 127.8h0M263.2 132.9h0M264.2 78.6h0M263.5 79.0h0M263.7 78.0h0M263.9 77.7h0M264.1 72.9h0M263.7 63.8h0M263.5 56.7h0M263.8 48.2h0M263.3 112.1h0M263.6 112.3h0M263.3 115.5h0M264.2 115.8h0M264.1 116.2h0M264.0 116.6h0M263.8 119.3h0M264.2 120.7h0M263.3 124.7h0M264.1 125.3h0M264.5 79.7h0M265.1 79.4h0M264.9 78.1h0M264.6 74.8h0M264.4 74.2h0M264.5 73.6h0M265.0 61.0h0M265.0 50.1h0M264.7 111.9h0M265.0 112.1h0M264.4 112.6h0M264.6 113.8h0M264.8 113.6h0M264.9 126.7h0M265.3 79.2h0M265.7 79.0h0M266.1 79.0h0M265.5 78.2h0M266.0 75.3h0M266.2 73.7h0M265.4 50.4h0M265.6 111.7h0M265.9 113.6h0M265.5 113.9h0M265.9 117.8h0M265.3 119.0h0M265.6 122.8h0M266.0 129.1h0M266.2 135.4h0M267.1 79.3h0M266.8 78.5h0M266.3 77.3h0M267.0 76.2h0M267.0 74.2h0M266.5 74.4h0M266.8 73.5h0M267.2 71.0h0M266.4 59.6h0M266.3 58.6h0M266.3 112.0h0M266.3 114.1h0M266.6 115.6h0M267.0 118.0h0M266.9 118.8h0M266.5 121.3h0M266.5 123.1h0M266.8 127.5h0M267.6 79.3h0M267.3 79.5h0M267.7 78.3h0M267.5 78.1h0M267.5 77.7h0M267.4 74.0h0M268.0 71.2h0M267.9 70.6h0M267.9 68.8h0M267.9 59.0h0M268.0 54.5h0M267.4 113.4h0M268.2 115.2h0M268.1 116.6h0M267.3 117.3h0M267.7 122.7h0M267.7 123.7h0M267.4 125.9h0M267.8 127.7h0M268.2 128.5h0M268.4 79.5h0M268.7 76.6h0M268.8 74.9h0M268.4 73.7h0M268.3 71.1h0M268.6 68.8h0M268.3 68.9h0M268.9 66.7h0M268.4 66.4h0M268.9 61.8h0M269.0 57.5h0M269.0 50.9h0M268.5 111.9h0M268.9 113.2h0M268.7 112.9h0M269.1 113.9h0M268.9 115.1h0M268.9 114.9h0M268.6 116.4h0M269.1 119.0h0M269.1 121.1h0M269.0 125.5h0M269.1 132.0h0M268.3 139.5h0M268.6 142.4h0M268.5 157.3h0M269.4 79.6h0M270.2 78.3h0M270.0 75.4h0M269.3 74.9h0M269.4 73.2h0M269.7 68.1h0M270.1 112.3h0M270.2 112.5h0M270.1 113.3h0M269.9 114.6h0M270.1 114.8h0M269.6 120.6h0M269.4 121.2h0M269.3 125.8h0M269.9 129.6h0M270.3 79.1h0M271.0 78.6h0M270.3 78.2h0M270.5 73.5h0M270.7 71.6h0M270.4 67.7h0M271.2 67.0h0M270.8 61.2h0M270.8 113.9h0M270.9 114.2h0M270.9 115.0h0M271.0 117.2h0M270.8 117.1h0M270.9 117.3h0M270.7 122.3h0M270.8 124.3h0M270.9 125.2h0M271.3 78.7h0M271.5 78.0h0M272.2 75.1h0M271.7 73.8h0M271.7 73.2h0M271.8 70.9h0M272.2 70.7h0M272.2 69.5h0M271.8 66.1h0M271.6 65.8h0M271.7 63.2h0M271.8 49.7h0M271.8 113.5h0M272.1 116.1h0M272.2 117.1h0M271.4 117.5h0M271.5 119.5h0M272.0 154.7h0M272.9 79.1h0M272.5 77.6h0M272.3 77.2h0M272.6 76.5h0M273.1 76.8h0M272.9 73.5h0M272.4 73.5h0M272.3 73.5h0M272.9 71.7h0M272.8 70.1h0M273.0 55.2h0M273.0 112.7h0M273.0 115.8h0M272.5 115.9h0M272.5 116.8h0M272.3 116.4h0M272.4 120.7h0M273.1 126.5h0M272.5 136.7h0M272.6 141.6h0M272.9 146.3h0M273.9 77.7h0M273.5 77.2h0M273.5 77.3h0M273.3 76.5h0M273.3 76.6h0M273.9 75.3h0M274.0 72.6h0M273.7 72.6h0M274.0 70.6h0M273.6 112.5h0M274.2 114.3h0M273.3 117.3h0M274.1 126.3h0M274.2 128.5h0M273.9 133.9h0M273.6 135.0h0M274.3 80.0h0M274.6 68.3h0M274.8 112.9h0M275.1 112.8h0M274.5 113.0h0M274.9 115.1h0M274.3 116.4h0M274.8 123.6h0M276.1 79.6h0M275.3 79.2h0M276.0 79.0h0M275.9 79.3h0M276.1 78.3h0M275.9 76.5h0M275.5 76.1h0M275.4 69.6h0M276.0 52.7h0M275.3 113.3h0M275.8 114.5h0M275.6 115.5h0M275.7 119.5h0M275.9 125.0h0M276.1 128.3h0M275.8 131.2h0M275.7 131.7h0M277.1 79.2h0M276.4 77.8h0M276.4 73.9h0M276.6 71.2h0M276.7 70.1h0M276.3 69.7h0M276.5 68.6h0M276.4 68.5h0M277.0 65.4h0M276.4 114.5h0M277.0 116.7h0M276.5 118.1h0M276.3 124.8h0M276.9 155.6h0M277.4 79.2h0M277.8 79.0h0M277.8 78.5h0M278.2 77.7h0M278.2 78.0h0M277.9 77.3h0M277.3 74.1h0M277.9 74.3h0M278.0 73.0h0M277.7 68.3h0M277.3 64.8h0M277.6 54.6h0M278.1 49.0h0M278.1 48.1h0M278.2 115.6h0M277.6 116.8h0M278.2 117.5h0M278.0 124.5h0M277.5 125.4h0M277.7 134.2h0M277.6 144.0h0M278.2 159.5h0M278.7 79.4h0M278.8 78.8h0M278.9 76.8h0M278.9 75.7h0M278.8 69.0h0M278.8 68.9h0M279.2 66.8h0M278.3 114.0h0M278.6 114.6h0M278.3 116.6h0M278.6 117.6h0M280.0 78.2h0M280.0 76.2h0M280.0 74.3h0M279.9 73.1h0M279.4 70.7h0M279.7 65.7h0M280.0 63.7h0M279.3 55.9h0M280.0 46.7h0M279.3 113.8h0M279.4 115.1h0M279.9 115.9h0M279.6 126.2h0M279.7 132.7h0M280.5 80.0h0M280.3 80.0h0M280.6 79.1h0M280.7 78.9h0M281.1 78.7h0M280.3 76.8h0M280.8 73.2h0M281.1 72.9h0M281.2 60.4h0M280.6 48.4h0M281.1 114.4h0M280.9 116.3h0M280.5 116.5h0M280.9 120.6h0M281.1 126.0h0M280.8 140.2h0M280.9 154.4h0M281.5 79.3h0M281.4 78.4h0M281.5 77.0h0M282.1 74.4h0M281.9 72.6h0M281.5 71.6h0M281.5 71.0h0M282.0 69.1h0M281.7 66.5h0M281.3 63.7h0M281.5 62.2h0M281.5 114.3h0M281.5 114.8h0M281.3 116.3h0M281.8 127.5h0M282.3 80.0h0M282.7 79.0h0M282.5 78.5h0M283.1 77.0h0M283.0 77.0h0M282.4 75.9h0M282.5 74.8h0M282.3 74.7h0M283.1 73.7h0M282.7 73.0h0M283.2 71.4h0M283.2 59.3h0M283.2 114.6h0M283.1 116.8h0M283.2 117.7h0M283.0 119.0h0M282.5 120.9h0M283.2 121.5h0M283.1 121.9h0M282.6 132.7h0M282.5 140.4h0M282.9 143.8h0M282.4 144.9h0M283.4 78.5h0M283.3 76.2h0M284.1 75.3h0M284.1 66.5h0M283.8 62.1h0M283.4 114.3h0M283.5 114.1h0M283.8 115.1h0M283.3 116.1h0M284.1 119.1h0M283.4 121.6h0M283.3 129.0h0M283.3 135.0h0M284.8 80.5h0M285.2 80.2h0M284.6 75.8h0M284.5 74.5h0M284.5 73.7h0M285.2 69.8h0M284.7 68.1h0M284.5 114.1h0M284.3 115.5h0M285.1 115.8h0M285.2 116.8h0M284.3 117.6h0M284.6 118.2h0M284.8 129.9h0M284.4 133.2h0M285.1 145.0h0M285.7 80.0h0M285.4 79.4h0M285.8 78.2h0M285.7 78.3h0M286.1 77.2h0M285.9 77.4h0M285.8 76.1h0M285.7 74.9h0M286.0 73.3h0M285.7 71.5h0M285.7 70.1h0M285.7 66.8h0M286.1 64.0h0M285.7 60.3h0M286.2 53.0h0M285.3 114.4h0M285.3 114.7h0M285.7 116.7h0M285.5 117.2h0M285.4 119.2h0M286.0 120.0h0M286.0 120.4h0M285.4 121.1h0M285.4 128.6h0M286.6 80.4h0M286.8 80.0h0M286.6 78.2h0M286.9 77.8h0M286.3 77.1h0M286.4 76.7h0M287.0 75.7h0M286.9 74.5h0M287.2 74.6h0M287.2 71.2h0M286.4 67.7h0M286.3 67.4h0M286.9 54.9h0M286.7 52.7h0M286.9 51.6h0M286.4 114.4h0M286.5 114.8h0M287.2 114.9h0M286.8 114.9h0M286.6 115.1h0M286.6 116.4h0M286.6 119.3h0M286.6 119.0h0M287.0 123.5h0M287.0 137.1h0M287.9 79.2h0M287.6 79.0h0M287.6 78.5h0M288.1 77.9h0M288.2 71.8h0M287.5 69.1h0M288.0 68.9h0M287.7 61.8h0M288.1 60.8h0M287.5 58.5h0M288.1 114.4h0M287.5 114.7h0M287.3 115.3h0M287.8 115.3h0M287.8 115.7h0M288.0 115.8h0M287.9 115.4h0M287.8 116.4h0M288.0 116.3h0M287.5 117.4h0M287.4 120.3h0M287.8 121.7h0M287.3 126.4h0M287.8 128.6h0M287.7 156.3h0M289.0 80.6h0M289.1 79.6h0M288.8 79.7h0M288.3 78.2h0M288.9 77.7h0M288.4 76.4h0M288.9 76.1h0M288.7 66.4h0M288.7 62.2h0M288.8 115.5h0M288.3 116.5h0M288.3 117.0h0M289.2 117.3h0M288.3 117.3h0M289.1 117.7h0M288.5 118.2h0M288.7 120.6h0M288.6 128.7h0M288.8 131.0h0M288.8 134.8h0M289.0 137.7h0M289.6 80.6h0M289.7 80.0h0M289.6 77.1h0M289.4 75.6h0M289.3 75.5h0M289.9 73.9h0M289.4 73.7h0M289.3 72.7h0M289.7 71.4h0M289.8 69.7h0M289.8 65.8h0M289.4 47.2h0M289.9 114.9h0M290.2 115.6h0M290.1 115.8h0M289.6 117.3h0M290.1 122.5h0M289.8 126.7h0M289.8 143.5h0M290.0 158.6h0M290.5 79.7h0M291.0 79.5h0M291.0 79.5h0M290.3 78.6h0M290.8 78.2h0M290.3 78.1h0M291.0 75.4h0M290.6 74.8h0M290.8 75.1h0M290.3 68.3h0M290.6 63.4h0M290.3 49.1h0M291.2 114.9h0M290.8 115.8h0M291.1 117.5h0M290.4 118.8h0M291.0 120.5h0M290.7 121.0h0M290.9 121.7h0M291.2 125.1h0M290.6 125.8h0M290.5 129.5h0M290.6 147.6h0M291.8 80.3h0M291.6 80.4h0M291.4 77.7h0M292.2 74.1h0M292.0 71.9h0M292.0 69.9h0M292.0 69.9h0M291.6 68.5h0M291.3 67.5h0M291.5 67.7h0M291.4 66.3h0M291.5 62.8h0M292.0 59.0h0M291.9 46.7h0M292.2 115.1h0M291.6 115.8h0M291.6 117.0h0M292.2 118.0h0M292.0 119.3h0M291.6 122.3h0M291.6 123.0h0M291.8 159.5h0M293.2 80.7h0M292.8 76.8h0M292.6 75.5h0M292.8 69.1h0M292.6 68.9h0M293.0 68.5h0M292.8 47.6h0M292.6 47.0h0M292.9 115.7h0M292.3 116.1h0M293.1 115.8h0M292.6 116.3h0M292.4 116.8h0M292.5 118.9h0M293.0 119.7h0M292.6 120.8h0M292.7 124.4h0M292.5 128.8h0M292.4 139.5h0M293.5 81.0h0M294.1 80.2h0M294.1 78.3h0M293.7 78.2h0M293.3 77.6h0M293.5 75.3h0M293.8 74.5h0M293.7 74.4h0M293.6 74.0h0M293.5 70.7h0M293.9 64.5h0M293.9 64.6h0M293.4 115.7h0M293.3 116.1h0M294.2 116.9h0M293.7 117.7h0M293.6 117.4h0M293.7 117.8h0M293.8 118.6h0M294.1 119.3h0M293.6 122.6h0M293.6 146.2h0M294.7 81.2h0M295.0 80.3h0M295.2 79.4h0M295.1 79.2h0M295.0 79.1h0M295.1 78.5h0M295.0 77.1h0M294.5 76.1h0M294.8 76.3h0M294.4 73.7h0M294.9 73.5h0M295.2 72.9h0M294.8 69.2h0M294.5 68.3h0M294.3 115.8h0M294.4 116.0h0M295.2 116.1h0M294.9 117.9h0M294.8 120.2h0M294.7 120.8h0M294.6 121.0h0M294.8 122.4h0M294.7 124.7h0M295.1 129.5h0M295.1 133.3h0M295.1 139.0h0M295.1 145.7h0M296.2 81.2h0M295.9 80.9h0M295.5 80.6h0M296.1 80.5h0M295.5 79.3h0M296.2 78.4h0M295.5 77.8h0M296.0 77.3h0M295.3 75.5h0M296.0 69.0h0M295.7 67.7h0M295.7 66.5h0M295.7 50.3h0M295.3 46.5h0M295.6 115.6h0M296.2 115.8h0M295.7 117.8h0M296.2 118.7h0M295.9 119.2h0M296.2 137.0h0M295.7 139.7h0M295.6 148.7h0M296.9 81.5h0M296.6 81.6h0M296.5 81.3h0M296.6 80.8h0M296.5 80.3h0M296.7 80.5h0M296.9 79.6h0M297.2 78.8h0M296.6 79.0h0M296.3 78.6h0M297.1 77.5h0M296.5 76.4h0M297.1 75.2h0M296.8 65.9h0M296.9 115.9h0M296.4 117.0h0M296.3 122.5h0M297.2 139.4h0M296.5 148.6h0M296.7 155.9h0M298.1 80.4h0M297.7 79.3h0M298.0 79.1h0M297.3 78.2h0M297.9 77.3h0M297.3 74.1h0M297.9 46.2h0M297.5 116.1h0M297.3 116.2h0M297.7 116.9h0M297.3 117.7h0M297.9 118.5h0M297.8 121.4h0M298.0 123.6h0M297.8 124.3h0M297.7 130.3h0M297.3 130.9h0M298.0 135.4h0M298.1 138.1h0M297.6 152.2h0M298.8 81.8h0M298.9 81.7h0M298.5 81.8h0M298.6 78.5h0M298.9 77.0h0M299.1 76.9h0M298.4 74.2h0M298.9 72.6h0M298.8 72.5h0M299.0 58.1h0M299.1 116.1h0M298.8 116.3h0M298.4 118.0h0M298.7 118.7h0M298.6 119.8h0M299.0 142.4h0" stroke="#ff8600" stroke-width="2.3" stroke-linecap="round" fill="none"/>
<line x1="45.45" y1="105.1" x2="298.7" y2="105.1" stroke="#000" stroke-opacity="0.55" stroke-width="1.2"/>
<path d="M45.5 105.60 L48.5 105.99 L51.5 106.42 L54.5 106.89 L57.5 107.38 L60.5 107.89 L63.5 108.41 L66.5 108.95 L69.5 109.48 L72.5 110.01 L75.5 110.54 L78.5 111.06 L81.5 111.56 L84.5 112.04 L87.5 112.51 L90.5 112.95 L93.5 113.37 L96.5 113.76 L99.5 114.11 L102.5 114.44 L105.5 114.73 L108.5 114.99 L111.5 115.21 L114.5 115.40 L117.5 115.55 L120.5 115.66 L123.5 115.74 L126.5 115.77 L129.4 115.77 L132.4 115.73 L135.4 115.66 L138.4 115.55 L141.4 115.41 L144.4 115.23 L147.4 115.02 L150.4 114.78 L153.4 114.51 L156.4 114.21 L159.4 113.88 L162.4 113.53 L165.4 113.16 L168.4 112.77 L171.4 112.35 L174.4 111.92 L177.4 111.48 L180.4 111.02 L183.4 110.56 L186.4 110.08 L189.4 109.60 L192.4 109.12 L195.4 108.63 L198.4 108.15 L201.4 107.67 L204.4 107.20 L207.4 106.74 L210.4 106.29 L213.4 105.85 L216.4 105.42 L219.4 105.02 L222.4 104.63 L225.4 104.27 L228.4 103.93 L231.4 103.61 L234.4 103.33 L237.4 103.07 L240.4 102.84 L243.4 102.65 L246.4 102.49 L249.4 102.37 L252.4 102.28 L255.4 102.23 L258.4 102.22 L261.4 102.25 L264.4 102.32 L267.4 102.42 L270.4 102.57 L273.4 102.76 L276.4 102.99 L279.4 103.25 L282.4 103.56 L285.4 103.91 L288.4 104.29 L291.4 104.70 L294.4 105.15 L298.7 105.85" stroke="#2414c0" stroke-width="1.4" fill="none"/>
<rect x="145.8" y="20.8" width="128.4" height="20.4" rx="1" fill="#fff" stroke="#5a5a5a" stroke-width="1.0"/>
<circle cx="176" cy="31.9" r="1" fill="#ff8600"/>
<text x="191.2" y="35.4" font-size="11.5" style="stroke-width:0.05px">SRTM - TOPO</text>
<path d="M45.45 202.65v3.6M66.55 202.65v1.9M87.66 202.65v3.6M108.76 202.65v1.9M129.87 202.65v3.6M150.97 202.65v1.9M172.07 202.65v3.6M193.18 202.65v1.9M214.28 202.65v3.6M235.39 202.65v1.9M256.49 202.65v3.6M277.60 202.65v1.9M298.70 202.65v3.6M45.45 202.65h-3.4M45.45 178.19h-1.9M45.45 153.72h-3.4M45.45 129.26h-1.9M45.45 104.80h-3.4M45.45 80.34h-1.9M45.45 55.88h-3.4M45.45 31.41h-1.9M45.45 6.95h-3.4" stroke="#1c1c1c" stroke-width="1.2"/>
<g font-size="12"><text x="45.5" y="217.2" text-anchor="middle">0</text><text x="87.7" y="217.2" text-anchor="middle">60</text><text x="129.9" y="217.2" text-anchor="middle">120</text><text x="172.1" y="217.2" text-anchor="middle">180</text><text x="214.3" y="217.2" text-anchor="middle">240</text><text x="256.5" y="217.2" text-anchor="middle">300</text><text x="298.7" y="217.2" text-anchor="middle">360</text><text x="39.8" y="206.7" text-anchor="end">-400</text><text x="39.8" y="157.8" text-anchor="end">-200</text><text x="39.8" y="108.9" text-anchor="end">0</text><text x="39.8" y="60.0" text-anchor="end">200</text><text x="39.8" y="11.1" text-anchor="end">400</text></g>
<text x="123.3" y="235.5" font-size="14.6">Aspect (<tspan dx="1">°</tspan><tspan dx="0.9">)</tspan></text>
<text transform="translate(13.4,142.4) rotate(-90)" font-size="14.6">dh<tspan dx="-1.3"> /tan(slope)</tspan></text>
<text x="1.6" y="8.5" font-size="12" font-weight="bold" style="font-family:'Liberation Sans',sans-serif;stroke:none;fill:#000">a</text>
</g>
<g>
<path d="M370.0 40.8l3.9 6.0h-7.8zM374.2 45.3l3.9 6.0h-7.8zM383.0 42.6l3.9 6.0h-7.8zM386.8 44.1l3.9 6.0h-7.8zM391.8 45.3l3.9 6.0h-7.8zM378.5 60.1l3.9 6.0h-7.8zM396.0 57.9l3.9 6.0h-7.8zM400.5 52.5l3.9 6.0h-7.8zM405.0 54.1l3.9 6.0h-7.8zM409.5 56.1l3.9 6.0h-7.8zM414.0 58.1l3.9 6.0h-7.8zM418.3 67.1l3.9 6.0h-7.8zM422.5 69.3l3.9 6.0h-7.8zM427.0 72.1l3.9 6.0h-7.8zM431.2 75.1l3.9 6.0h-7.8zM435.8 77.1l3.9 6.0h-7.8zM440.5 82.1l3.9 6.0h-7.8zM445.0 85.1l3.9 6.0h-7.8zM449.5 91.3l3.9 6.0h-7.8zM453.8 95.7l3.9 6.0h-7.8zM458.0 100.4l3.9 6.0h-7.8zM462.5 108.8l3.9 6.0h-7.8zM466.8 120.8l3.9 6.0h-7.8zM471.2 125.8l3.9 6.0h-7.8zM476.0 132.1l3.9 6.0h-7.8zM480.2 134.8l3.9 6.0h-7.8zM484.8 139.1l3.9 6.0h-7.8zM489.2 143.1l3.9 6.0h-7.8zM493.5 148.6l3.9 6.0h-7.8zM498.2 151.6l3.9 6.0h-7.8zM502.2 156.1l3.9 6.0h-7.8zM506.8 154.6l3.9 6.0h-7.8zM511.5 160.4l3.9 6.0h-7.8zM516.0 160.1l3.9 6.0h-7.8zM520.2 167.6l3.9 6.0h-7.8zM524.5 170.8l3.9 6.0h-7.8zM529.0 164.6l3.9 6.0h-7.8zM533.2 172.1l3.9 6.0h-7.8zM537.8 164.8l3.9 6.0h-7.8zM542.0 172.1l3.9 6.0h-7.8zM546.5 175.1l3.9 6.0h-7.8zM551.0 177.3l3.9 6.0h-7.8zM555.8 185.1l3.9 6.0h-7.8zM560.1 179.6l3.9 6.0h-7.8z" fill="#ff0000"/>
<path d="M495.3 27.2l3.5 4.5h-7z" fill="#ff0000"/>
<text x="510.5" y="33.3" font-size="11.5" style="stroke-width:0.05px">SRTM - TOPO</text>
<rect x="351.9" y="7.5" width="243.40" height="195.20" fill="none" stroke="#1c1c1c" stroke-width="1.4"/>
<path d="M351.90 202.70v1.9M374.03 202.70v3.6M396.15 202.70v1.9M418.28 202.70v3.6M440.41 202.70v1.9M462.54 202.70v3.6M484.66 202.70v1.9M506.79 202.70v3.6M528.92 202.70v1.9M551.05 202.70v3.6M573.17 202.70v1.9M595.30 202.70v3.6M351.90 202.70h-3.4M351.90 183.18h-1.9M351.90 163.66h-3.4M351.90 144.14h-1.9M351.90 124.62h-3.4M351.90 105.10h-1.9M351.90 85.58h-3.4M351.90 66.06h-1.9M351.90 46.54h-3.4M351.90 27.02h-1.9M351.90 7.50h-3.4" stroke="#1c1c1c" stroke-width="1.2"/>
<g font-size="12"><text x="374.0" y="217.2" text-anchor="middle">-2</text><text x="418.3" y="217.2" text-anchor="middle">-1</text><text x="462.5" y="217.2" text-anchor="middle">0</text><text x="506.8" y="217.2" text-anchor="middle">1</text><text x="551.0" y="217.2" text-anchor="middle">2</text><text x="595.3" y="217.2" text-anchor="middle">3</text><text x="346.3" y="206.8" text-anchor="end">-8</text><text x="346.3" y="167.8" text-anchor="end">-4</text><text x="346.3" y="128.7" text-anchor="end">0</text><text x="346.3" y="89.7" text-anchor="end">4</text><text x="346.3" y="50.6" text-anchor="end">8</text><text x="346.3" y="11.6" text-anchor="end">12</text></g>
<text x="408.7" y="233.2" font-size="14.5">Max curvature (*10<tspan dy="-5.5" font-size="7.5">-2</tspan><tspan dy="5.5" dx="2">)</tspan></text>
<text transform="translate(330.7,101.4) rotate(-90)" font-size="14.2" text-anchor="middle">Elevation difference (m)</text>
<text x="322.5" y="11.8" font-size="12" font-weight="bold" style="font-family:'Liberation Sans',sans-serif;stroke:none;fill:#000">b</text>
</g>
</svg>
</body></html>
